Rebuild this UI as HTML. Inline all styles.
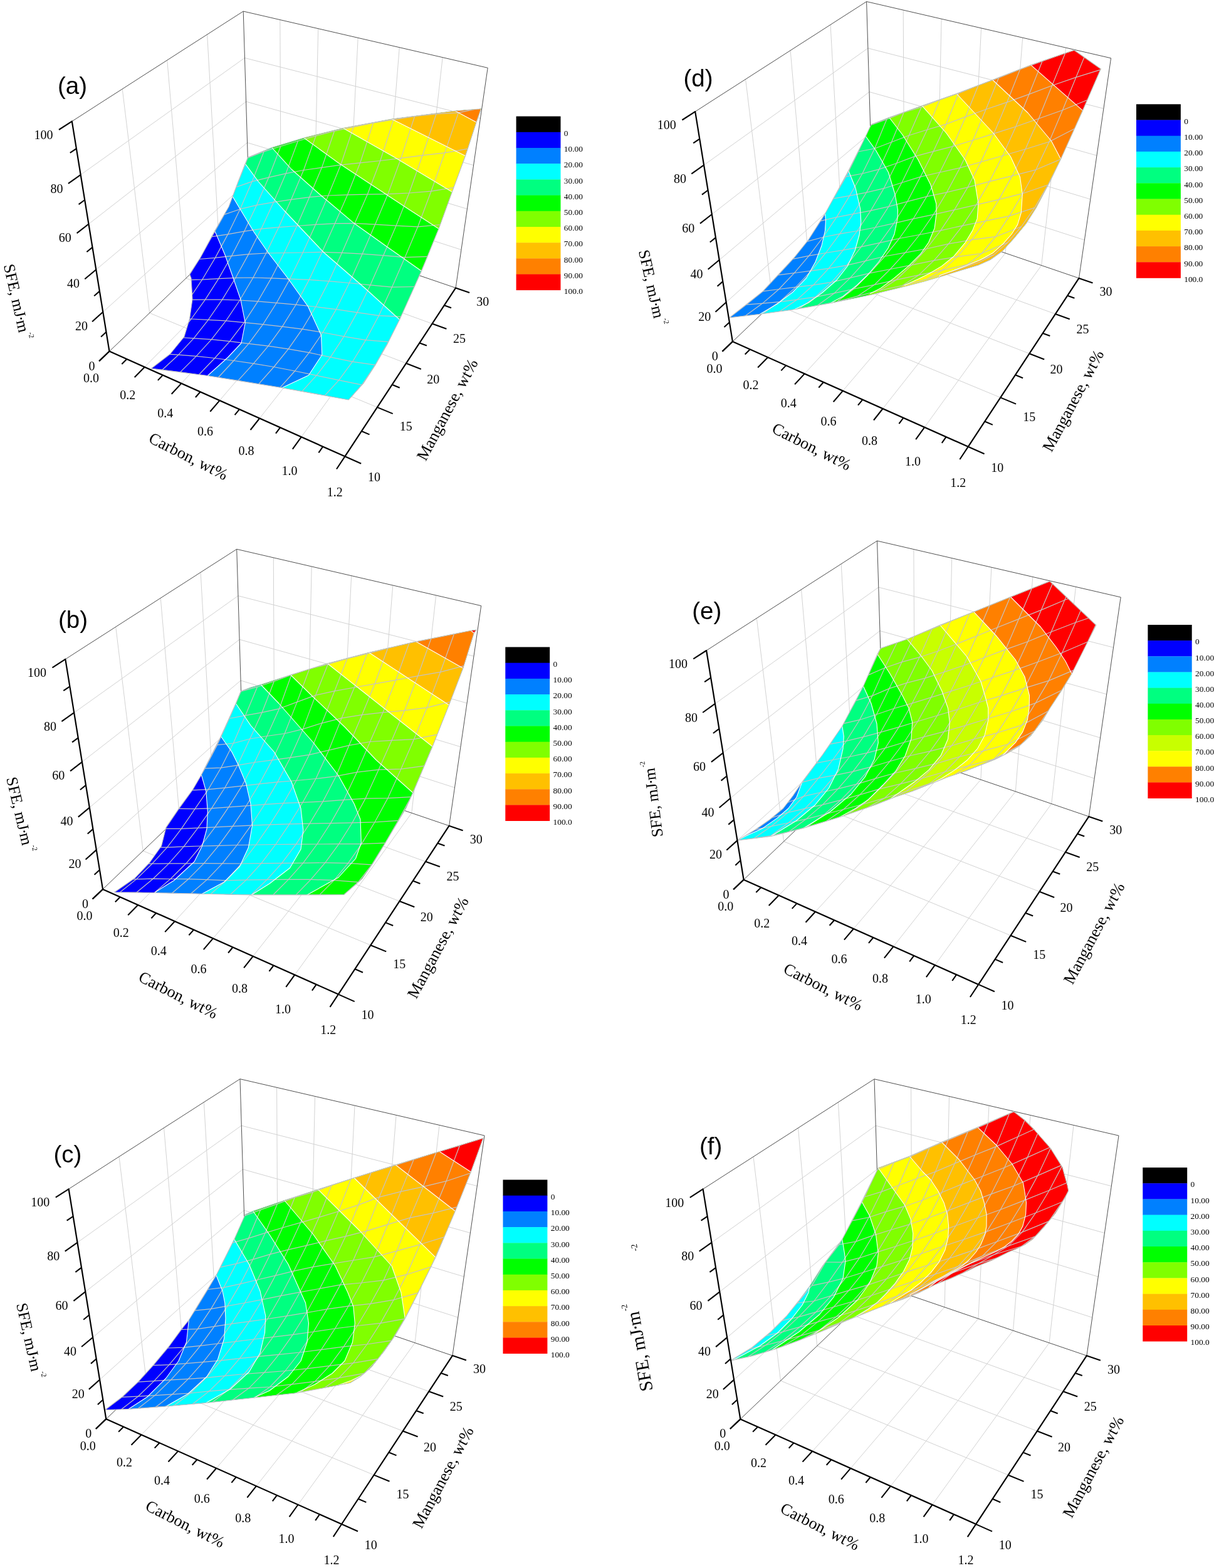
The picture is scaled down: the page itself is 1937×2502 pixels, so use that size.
<!DOCTYPE html>
<html><head><meta charset="utf-8"><title>SFE maps</title>
<style>
html,body{margin:0;padding:0;background:#fff}
svg{display:block}
.g{stroke:#d2d2d2;stroke-width:1;fill:none}
.b{stroke:#505050;stroke-width:1;fill:none}
.a{stroke:#000;stroke-width:2.2;fill:none;stroke-linejoin:round;stroke-linecap:round}
.t{stroke:#000;stroke-width:2.1;stroke-linecap:butt}
.m{stroke:#c6c2c2;stroke-width:1.2;fill:none;stroke-linejoin:round}
.c{stroke:#fff;stroke-width:1.1;fill:none;stroke-linejoin:round}
.o{stroke:#c0c0c0;stroke-width:1.1;fill:none;stroke-linejoin:round}
text{font-family:"Liberation Serif",serif;fill:#000}
.tl{font-size:20px;text-anchor:middle}
.tt{font-size:26px;text-anchor:middle}
.lg{font-size:13.4px}
.ts{}
.pl{font-family:"Liberation Sans",sans-serif;font-size:38.5px}
</style></head>
<body>
<svg width="1937" height="2502" viewBox="0 0 1937 2502">
<rect width="1937" height="2502" fill="#fff"/>
<g id="p_a">
<line class="g" x1="164.3" y1="497.8" x2="396.5" y2="289.2"/>
<line class="g" x1="396.5" y1="289.2" x2="736" y2="398.5"/>
<line class="g" x1="153.3" y1="430.3" x2="394.6" y2="227.6"/>
<line class="g" x1="394.6" y1="227.6" x2="745.4" y2="333.4"/>
<line class="g" x1="141.4" y1="357.5" x2="392.6" y2="162.1"/>
<line class="g" x1="392.6" y1="162.1" x2="755.6" y2="263.7"/>
<line class="g" x1="128.7" y1="278.9" x2="390.4" y2="92.4"/>
<line class="g" x1="390.4" y1="92.4" x2="766.5" y2="188.8"/>
<line class="g" x1="238.7" y1="499.4" x2="195.2" y2="141.9"/>
<line class="g" x1="238.7" y1="499.4" x2="601.9" y2="649.9"/>
<line class="g" x1="296.9" y1="443.9" x2="266.7" y2="96"/>
<line class="g" x1="296.9" y1="443.9" x2="648" y2="579.7"/>
<line class="g" x1="349.8" y1="393.4" x2="330.6" y2="54.9"/>
<line class="g" x1="349.8" y1="393.4" x2="689.5" y2="516.5"/>
<line class="g" x1="448.4" y1="364.3" x2="446.8" y2="31.6"/>
<line class="g" x1="230.7" y1="585.7" x2="448.4" y2="364.3"/>
<line class="g" x1="500.4" y1="382" x2="507.7" y2="45.7"/>
<line class="g" x1="289.3" y1="611.9" x2="500.4" y2="382"/>
<line class="g" x1="554.1" y1="400.4" x2="571.2" y2="60.4"/>
<line class="g" x1="350.4" y1="639.1" x2="554.1" y2="400.4"/>
<line class="g" x1="609.7" y1="419.4" x2="637.3" y2="75.7"/>
<line class="g" x1="414.2" y1="667.5" x2="609.7" y2="419.4"/>
<line class="g" x1="667.3" y1="439" x2="706.2" y2="91.7"/>
<line class="g" x1="480.7" y1="697.3" x2="667.3" y2="439"/>
<line class="b" x1="114.8" y1="193.6" x2="388.2" y2="18"/>
<line class="b" x1="388.2" y1="18" x2="778.2" y2="108.3"/>
<line class="b" x1="398.2" y1="347.2" x2="388.2" y2="18"/>
<line class="b" x1="727.1" y1="459.4" x2="778.2" y2="108.3"/>
<line class="b" x1="174.5" y1="560.6" x2="398.2" y2="347.2"/>
<line class="b" x1="398.2" y1="347.2" x2="727.1" y2="459.4"/>
<polygon points="241.3,588 271.3,565 293.8,537.5 302.5,508.8 307,477.5 305,443.8 302.5,437.5 320,410.5 342.5,368.8 365,330 380,290 391.3,261.3 395.5,251.3 433.8,235.5 485,220 547.5,204.5 625,190 726.3,177 767.5,173.8 760,195 742.5,248.8 721.3,306.3 700,365 672.5,432.5 637.5,510 617.5,550 598.8,582.5 580,611.5 556.3,638 450,618.8 331.3,599.5" fill="#0000ff"/>
<polygon points="331.3,599.5 450,618.8 556.3,638 580,611.5 598.8,582.5 617.5,550 637.5,510 672.5,432.5 700,365 721.3,306.3 742.5,248.8 760,195 767.5,173.8 726.3,177 625,190 547.5,204.5 485,220 433.8,235.5 395.5,251.3 391.3,261.3 380,290 365,330 342.5,368.8 345,373.8 358.8,406.3 371.3,441.3 383.8,477.5 391.3,515 385,547.5 363.8,570" fill="#0080ff"/>
<polygon points="450,618.8 556.3,638 580,611.5 598.8,582.5 617.5,550 637.5,510 672.5,432.5 700,365 721.3,306.3 742.5,248.8 760,195 767.5,173.8 726.3,177 625,190 547.5,204.5 485,220 433.8,235.5 395.5,251.3 391.3,261.3 380,290 371.1,313.6 382.5,332.5 405,370 427.5,402.5 460,445 491.3,488.8 512.5,535 513.8,566.3 492.5,598.8" fill="#00ffff"/>
<polygon points="637.5,510 672.5,432.5 700,365 721.3,306.3 742.5,248.8 760,195 767.5,173.8 726.3,177 625,190 547.5,204.5 485,220 433.8,235.5 395.5,251.3 391.3,261.3 412.5,290 453.5,336 516.3,402.5 582.5,460" fill="#00ff80"/>
<polygon points="672.5,432.5 700,365 721.3,306.3 742.5,248.8 760,195 767.5,173.8 726.3,177 625,190 547.5,204.5 485,220 433.8,235.5 465,270 510,310 565,356.3 617.5,393.8" fill="#00ff00"/>
<polygon points="700,365 721.3,306.3 742.5,248.8 760,195 767.5,173.8 726.3,177 625,190 547.5,204.5 485,220 540,260 595,296.3 650,332.5" fill="#80ff00"/>
<polygon points="721.3,306.3 742.5,248.8 760,195 767.5,173.8 726.3,177 625,190 547.5,204.5 630,251.3" fill="#ffff00"/>
<polygon points="742.5,248.8 760,195 767.5,173.8 726.3,177 625,190" fill="#ffc000"/>
<polygon points="760,195 767.5,173.8 726.3,177" fill="#ff8000"/>
<clipPath id="clip_a"><polygon points="241.3,588 271.3,565 293.8,537.5 302.5,508.8 307,477.5 305,443.8 302.5,437.5 320,410.5 342.5,368.8 365,330 380,290 391.3,261.3 395.5,251.3 433.8,235.5 485,220 547.5,204.5 625,190 726.3,177 767.5,173.8 760,195 742.5,248.8 721.3,306.3 700,365 672.5,432.5 637.5,510 617.5,550 598.8,582.5 580,611.5 556.3,638 450,618.8 331.3,599.5"/></clipPath>
<g clip-path="url(#clip_a)">
<polyline class="m" points="178.9,587.5 204.7,561.1 229.4,534.5 253,506.9 275.5,477.8 297.1,446.7 317.9,413.5 338,377.7 357.7,342.4 376.7,298.6 395.3,251.9"/>
<polyline class="m" points="204.5,587.7 230.4,562.3 255.1,536 278.6,507.9 301.1,478.3 322.6,446.2 343.4,411.4 363.5,373.9 383.1,333.7 402.2,289.6 421.1,241.9"/>
<polyline class="m" points="231.1,588.1 257.1,564.3 281.7,538 305.1,509 327.4,478.1 348.8,444.6 369.6,408.3 389.7,369.2 409.4,327.4 428.7,283.2 447.8,233.5"/>
<polyline class="m" points="258.8,590.3 284.7,566.2 309.1,539.8 332.3,510.3 354.5,478.1 375.9,443.3 396.6,405.6 416.8,365.2 436.6,322.6 456.1,276.9 475.4,225"/>
<polyline class="m" points="287.5,593.9 313.1,568.4 337.4,541.7 360.5,511.9 382.6,479 403.9,443 424.6,404 444.8,362.6 464.7,318.3 484.4,271.5 504,216.8"/>
<polyline class="m" points="317.3,598 342.6,571.5 366.6,544.7 389.5,514.6 411.5,480.8 432.8,443.9 453.4,403.5 473.7,360.5 493.7,314.6 513.5,267.3 533.5,209.2"/>
<polyline class="m" points="348.1,602.5 373,575.5 396.8,548.4 419.5,517.7 441.3,483.3 462.5,445.1 483.2,403 503.6,358.3 523.7,312 543.7,263.1 564,202.6"/>
<polyline class="m" points="379.8,607.4 404.5,580.1 428,552.2 450.4,521.1 472.1,486.2 493.2,446.4 513.9,402.3 534.4,356.6 554.5,310.8 574.7,259.8 595.6,196.1"/>
<polyline class="m" points="412.7,612.8 437,585.5 460.1,556.9 482.3,525.2 503.8,489.5 524.8,448.7 545.6,403.3 566.1,356.3 586.3,310.2 606.7,256.5 628,190.9"/>
<polyline class="m" points="446.7,618.6 470.5,592 493.2,562.7 515.1,530.5 536.4,493.6 557.3,451.5 578.1,405.2 598.6,358.1 619,309.6 639.9,252.4 661.6,185.6"/>
<polyline class="m" points="481.8,624.7 505,599.2 527.3,569.9 548.8,536.8 569.9,498.6 590.8,454.9 611.6,407.7 632.1,360.1 652.8,308 674.2,247.8 696.1,181.8"/>
<polyline class="m" points="518.1,631.3 540.7,606.6 562.4,577.2 583.6,542.6 604.5,503.6 625.4,458.2 646.1,410.7 666.7,361.8 687.9,305.2 709.6,243.9 731.5,179.9"/>
<polyline class="m" points="555.5,639.1 577.4,614.1 598.8,582.3 619.8,545.3 640.4,505.3 661.5,457.5 682.2,409.4 702.9,358.5 724.6,299.1 746.6,237.3 768.9,172"/>
<polyline class="m" points="178.9,587.5 204.5,587.7 231.1,588.1 258.8,590.3 287.5,593.9 317.3,598 348.1,602.5 379.8,607.4 412.7,612.8 446.7,618.6 481.8,624.7 518.1,631.3 555.5,639.1"/>
<polyline class="m" points="204.7,561.1 230.4,562.3 257.1,564.3 284.7,566.2 313.1,568.4 342.6,571.5 373,575.5 404.5,580.1 437,585.5 470.5,592 505,599.2 540.7,606.6 577.4,614.1"/>
<polyline class="m" points="229.4,534.5 255.1,536 281.7,538 309.1,539.8 337.4,541.7 366.6,544.7 396.8,548.4 428,552.2 460.1,556.9 493.2,562.7 527.3,569.9 562.4,577.2 598.8,582.3"/>
<polyline class="m" points="253,506.9 278.6,507.9 305.1,509 332.3,510.3 360.5,511.9 389.5,514.6 419.5,517.7 450.4,521.1 482.3,525.2 515.1,530.5 548.8,536.8 583.6,542.6 619.8,545.3"/>
<polyline class="m" points="275.5,477.8 301.1,478.3 327.4,478.1 354.5,478.1 382.6,479 411.5,480.8 441.3,483.3 472.1,486.2 503.8,489.5 536.4,493.6 569.9,498.6 604.5,503.6 640.4,505.3"/>
<polyline class="m" points="297.1,446.7 322.6,446.2 348.8,444.6 375.9,443.3 403.9,443 432.8,443.9 462.5,445.1 493.2,446.4 524.8,448.7 557.3,451.5 590.8,454.9 625.4,458.2 661.5,457.5"/>
<polyline class="m" points="317.9,413.5 343.4,411.4 369.6,408.3 396.6,405.6 424.6,404 453.4,403.5 483.2,403 513.9,402.3 545.6,403.3 578.1,405.2 611.6,407.7 646.1,410.7 682.2,409.4"/>
<polyline class="m" points="338,377.7 363.5,373.9 389.7,369.2 416.8,365.2 444.8,362.6 473.7,360.5 503.6,358.3 534.4,356.6 566.1,356.3 598.6,358.1 632.1,360.1 666.7,361.8 702.9,358.5"/>
<polyline class="m" points="357.7,342.4 383.1,333.7 409.4,327.4 436.6,322.6 464.7,318.3 493.7,314.6 523.7,312 554.5,310.8 586.3,310.2 619,309.6 652.8,308 687.9,305.2 724.6,299.1"/>
<polyline class="m" points="376.7,298.6 402.2,289.6 428.7,283.2 456.1,276.9 484.4,271.5 513.5,267.3 543.7,263.1 574.7,259.8 606.7,256.5 639.9,252.4 674.2,247.8 709.6,243.9 746.6,237.3"/>
<polyline class="m" points="395.3,251.9 421.1,241.9 447.8,233.5 475.4,225 504,216.8 533.5,209.2 564,202.6 595.6,196.1 628,190.9 661.6,185.6 696.1,181.8 731.5,179.9 768.9,172"/>
<polyline class="c" points="329.1,601.5 331.3,599.5 363.8,570 385,547.5 391.3,515 383.8,477.5 371.3,441.3 358.8,406.3 345,373.8 342.5,368.8 341.2,366.1"/>
<polyline class="c" points="447.3,620.1 450,618.8 492.5,598.8 513.8,566.3 512.5,535 491.3,488.8 460,445 427.5,402.5 405,370 382.5,332.5 370.7,312.9 369.2,310.3"/>
<polyline class="c" points="639.7,512 637.5,510 582.5,460 516.3,402.5 453.5,336 412.5,290 391.3,261.3 389.5,258.9"/>
<polyline class="c" points="675,434.2 672.5,432.5 617.5,393.8 565,356.3 510,310 465,270 433.8,235.5 431.8,233.3"/>
<polyline class="c" points="702.5,366.6 700,365 650,332.5 595,296.3 540,260 485,220 482.6,218.2"/>
<polyline class="c" points="723.9,307.8 721.3,306.3 630,251.3 547.5,204.5 544.9,203"/>
<polyline class="c" points="745.2,250.1 742.5,248.8 625,190 622.3,188.7"/>
<polyline class="c" points="762.6,196.4 760,195 726.3,177 723.7,175.6"/>
</g>
<polygon class="o" points="241.3,588 271.3,565 293.8,537.5 302.5,508.8 307,477.5 305,443.8 302.5,437.5 320,410.5 342.5,368.8 365,330 380,290 391.3,261.3 395.5,251.3 433.8,235.5 485,220 547.5,204.5 625,190 726.3,177 767.5,173.8 760,195 742.5,248.8 721.3,306.3 700,365 672.5,432.5 637.5,510 617.5,550 598.8,582.5 580,611.5 556.3,638 450,618.8 331.3,599.5"/>
<line class="t" x1="174.5" y1="560.6" x2="158.1" y2="576.3"/>
<line class="t" x1="169.5" y1="529.7" x2="161.1" y2="537.5"/>
<line class="t" x1="164.3" y1="497.8" x2="147.1" y2="513.2"/>
<line class="t" x1="158.9" y1="464.6" x2="150.2" y2="472.2"/>
<line class="t" x1="153.3" y1="430.3" x2="135.3" y2="445.3"/>
<line class="t" x1="147.5" y1="394.6" x2="138.4" y2="402"/>
<line class="t" x1="141.4" y1="357.5" x2="122.6" y2="372.1"/>
<line class="t" x1="135.2" y1="319" x2="125.6" y2="326.1"/>
<line class="t" x1="128.7" y1="278.9" x2="108.9" y2="292.9"/>
<line class="t" x1="121.9" y1="237.1" x2="111.8" y2="243.9"/>
<line class="t" x1="114.8" y1="193.6" x2="94" y2="207"/>
<line class="t" x1="174.5" y1="560.6" x2="158.1" y2="576.3"/>
<line class="t" x1="202.3" y1="573" x2="194.3" y2="581"/>
<line class="t" x1="230.7" y1="585.7" x2="214.7" y2="602"/>
<line class="t" x1="259.7" y1="598.6" x2="251.9" y2="606.9"/>
<line class="t" x1="289.3" y1="611.9" x2="273.7" y2="628.8"/>
<line class="t" x1="319.6" y1="625.3" x2="311.9" y2="634"/>
<line class="t" x1="350.4" y1="639.1" x2="335.3" y2="656.8"/>
<line class="t" x1="382" y1="653.2" x2="374.6" y2="662.2"/>
<line class="t" x1="414.2" y1="667.5" x2="399.6" y2="686"/>
<line class="t" x1="447.1" y1="682.2" x2="440" y2="691.6"/>
<line class="t" x1="480.7" y1="697.3" x2="466.8" y2="716.6"/>
<line class="t" x1="515.2" y1="712.6" x2="508.4" y2="722.4"/>
<line class="t" x1="550.3" y1="728.3" x2="537" y2="748.5"/>
<line class="t" x1="550.3" y1="728.3" x2="576.2" y2="739.8"/>
<line class="t" x1="576.9" y1="688" x2="589.5" y2="693.4"/>
<line class="t" x1="601.9" y1="649.9" x2="626.7" y2="660.1"/>
<line class="t" x1="625.6" y1="613.8" x2="637.7" y2="618.7"/>
<line class="t" x1="648" y1="579.7" x2="671.8" y2="588.9"/>
<line class="t" x1="669.3" y1="547.3" x2="680.9" y2="551.6"/>
<line class="t" x1="689.5" y1="516.5" x2="712.4" y2="524.8"/>
<line class="t" x1="708.8" y1="487.3" x2="720" y2="491.2"/>
<line class="t" x1="727.1" y1="459.4" x2="749.1" y2="466.9"/>
<polyline class="a" points="114.8,193.6 174.5,560.6 550.3,728.3 727.1,459.4"/>
<text class="tl" x="69.4" y="221.7">100</text>
<text class="tl" x="90.5" y="307.5">80</text>
<text class="tl" x="103.8" y="386.1">60</text>
<text class="tl" x="117.1" y="459">40</text>
<text class="tl" x="129.9" y="527.1">20</text>
<text class="tl" x="146.4" y="590.6">0</text>
<text class="tl" x="145.5" y="610.1">0.0</text>
<text class="tl" x="203.7" y="636.7">0.2</text>
<text class="tl" x="263.8" y="665.5">0.4</text>
<text class="tl" x="327.5" y="694.7">0.6</text>
<text class="tl" x="393" y="725.5">0.8</text>
<text class="tl" x="462.1" y="758.3">1.0</text>
<text class="tl" x="534.3" y="792">1.2</text>
<text class="tl" x="596.9" y="768.1">10</text>
<text class="tl" x="647.8" y="687">15</text>
<text class="tl" x="691.2" y="611.9">20</text>
<text class="tl" x="733" y="547.1">25</text>
<text class="tl" x="770.2" y="487.7">30</text>
<text class="tt" transform="translate(300.4,728.6) rotate(26.8)" y="8">Carbon, wt%</text>
<text class="tt" transform="translate(714.1,654) rotate(-62)" y="8">Manganese, wt%</text>
<text class="ts" font-size="25.5" transform="translate(25.4,477) rotate(77.2)" x="-56.6" y="7.4">SFE, mJ<tspan dx="-1.8">·</tspan><tspan dx="-1.9">m</tspan><tspan dy="-14.8" dx="2.3" font-size="11.5">-2</tspan></text>
<text class="pl" x="92" y="150">(a)</text>
<rect x="823.6" y="185.6" width="70.9" height="25.5" fill="#000000"/>
<rect x="823.6" y="210.8" width="70.9" height="25.5" fill="#0000ff"/>
<rect x="823.6" y="236" width="70.9" height="25.5" fill="#0080ff"/>
<rect x="823.6" y="261.2" width="70.9" height="25.5" fill="#00ffff"/>
<rect x="823.6" y="286.4" width="70.9" height="25.5" fill="#00ff80"/>
<rect x="823.6" y="311.6" width="70.9" height="25.5" fill="#00ff00"/>
<rect x="823.6" y="336.8" width="70.9" height="25.5" fill="#80ff00"/>
<rect x="823.6" y="362" width="70.9" height="25.5" fill="#ffff00"/>
<rect x="823.6" y="387.2" width="70.9" height="25.5" fill="#ffc000"/>
<rect x="823.6" y="412.4" width="70.9" height="25.5" fill="#ff8000"/>
<rect x="823.6" y="437.6" width="70.9" height="25.5" fill="#ff0000"/>
<text class="lg" x="899.8" y="217">0</text>
<text class="lg" x="899.8" y="242.2">10.00</text>
<text class="lg" x="899.8" y="267.4">20.00</text>
<text class="lg" x="899.8" y="292.6">30.00</text>
<text class="lg" x="899.8" y="317.8">40.00</text>
<text class="lg" x="899.8" y="343">50.00</text>
<text class="lg" x="899.8" y="368.2">60.00</text>
<text class="lg" x="899.8" y="393.4">70.00</text>
<text class="lg" x="899.8" y="418.6">80.00</text>
<text class="lg" x="899.8" y="443.8">90.00</text>
<text class="lg" x="899.8" y="469">100.0</text>
</g>
<g id="p_b">
<line class="g" x1="153.8" y1="1356.1" x2="386" y2="1147.5"/>
<line class="g" x1="386" y1="1147.5" x2="725.5" y2="1256.8"/>
<line class="g" x1="142.8" y1="1288.6" x2="384.1" y2="1085.9"/>
<line class="g" x1="384.1" y1="1085.9" x2="734.9" y2="1191.7"/>
<line class="g" x1="130.9" y1="1215.8" x2="382.1" y2="1020.4"/>
<line class="g" x1="382.1" y1="1020.4" x2="745.1" y2="1122"/>
<line class="g" x1="118.2" y1="1137.2" x2="379.9" y2="950.7"/>
<line class="g" x1="379.9" y1="950.7" x2="756" y2="1047.1"/>
<line class="g" x1="228.2" y1="1357.7" x2="184.7" y2="1000.2"/>
<line class="g" x1="228.2" y1="1357.7" x2="591.4" y2="1508.2"/>
<line class="g" x1="286.4" y1="1302.2" x2="256.2" y2="954.3"/>
<line class="g" x1="286.4" y1="1302.2" x2="637.5" y2="1438"/>
<line class="g" x1="339.3" y1="1251.7" x2="320.1" y2="913.2"/>
<line class="g" x1="339.3" y1="1251.7" x2="679" y2="1374.8"/>
<line class="g" x1="437.9" y1="1222.6" x2="436.3" y2="889.9"/>
<line class="g" x1="220.2" y1="1444" x2="437.9" y2="1222.6"/>
<line class="g" x1="489.9" y1="1240.3" x2="497.2" y2="904"/>
<line class="g" x1="278.8" y1="1470.2" x2="489.9" y2="1240.3"/>
<line class="g" x1="543.6" y1="1258.7" x2="560.7" y2="918.7"/>
<line class="g" x1="339.9" y1="1497.4" x2="543.6" y2="1258.7"/>
<line class="g" x1="599.2" y1="1277.7" x2="626.8" y2="934"/>
<line class="g" x1="403.7" y1="1525.8" x2="599.2" y2="1277.7"/>
<line class="g" x1="656.8" y1="1297.3" x2="695.7" y2="950"/>
<line class="g" x1="470.2" y1="1555.6" x2="656.8" y2="1297.3"/>
<line class="b" x1="104.3" y1="1051.9" x2="377.7" y2="876.3"/>
<line class="b" x1="377.7" y1="876.3" x2="767.7" y2="966.6"/>
<line class="b" x1="387.7" y1="1205.5" x2="377.7" y2="876.3"/>
<line class="b" x1="716.6" y1="1317.7" x2="767.7" y2="966.6"/>
<line class="b" x1="164" y1="1418.9" x2="387.7" y2="1205.5"/>
<line class="b" x1="387.7" y1="1205.5" x2="716.6" y2="1317.7"/>
<polygon points="182.5,1423.8 215,1401.3 238.8,1376.3 257.5,1350 265,1320 286.3,1288.8 307.5,1260 321.3,1236.3 352.5,1175 376.3,1122.5 384.3,1103 400,1097 416.3,1092.5 463.8,1077 522.5,1058.8 588.8,1041.3 663.8,1023.8 751.3,1006.3 760,1005 756.3,1010 738.8,1066.3 716.3,1125 690,1191.3 658.8,1265 647.5,1290 632.5,1315 612.5,1348.8 595,1377.5 577.5,1402.5 548.8,1427.5 490,1428 401.3,1428 322.5,1426.3 246.3,1424.5" fill="#0000ff"/>
<polygon points="246.3,1424.5 322.5,1426.3 401.3,1428 490,1428 548.8,1427.5 577.5,1402.5 595,1377.5 612.5,1348.8 632.5,1315 647.5,1290 658.8,1265 690,1191.3 716.3,1125 738.8,1066.3 756.3,1010 760,1005 751.3,1006.3 663.8,1023.8 588.8,1041.3 522.5,1058.8 463.8,1077 416.3,1092.5 400,1097 384.3,1103 376.3,1122.5 352.5,1175 321.3,1236.3 328.8,1262.5 331.3,1295 330,1322.5 322.5,1350 310,1375 277.5,1405" fill="#0080ff"/>
<polygon points="322.5,1426.3 401.3,1428 490,1428 548.8,1427.5 577.5,1402.5 595,1377.5 612.5,1348.8 632.5,1315 647.5,1290 658.8,1265 690,1191.3 716.3,1125 738.8,1066.3 756.3,1010 760,1005 751.3,1006.3 663.8,1023.8 588.8,1041.3 522.5,1058.8 463.8,1077 416.3,1092.5 400,1097 384.3,1103 376.3,1122.5 352.5,1175 370,1200 380,1220 392.5,1250 400,1282.5 402.5,1317.5 396.3,1352.5 382.5,1382.5 357.5,1407.5" fill="#00ffff"/>
<polygon points="401.3,1428 490,1428 548.8,1427.5 577.5,1402.5 595,1377.5 612.5,1348.8 632.5,1315 647.5,1290 658.8,1265 690,1191.3 716.3,1125 738.8,1066.3 756.3,1010 760,1005 751.3,1006.3 663.8,1023.8 588.8,1041.3 522.5,1058.8 463.8,1077 416.3,1092.5 400,1097 384.3,1103 376.3,1122.5 400,1157.5 437.5,1200 465,1247.5 480,1290 483.8,1325 480,1355 462.5,1385 430,1410" fill="#00ff80"/>
<polygon points="490,1428 548.8,1427.5 577.5,1402.5 595,1377.5 612.5,1348.8 632.5,1315 647.5,1290 658.8,1265 690,1191.3 716.3,1125 738.8,1066.3 756.3,1010 760,1005 751.3,1006.3 663.8,1023.8 588.8,1041.3 522.5,1058.8 463.8,1077 416.3,1092.5 445,1122.5 500,1185 540,1237.5 565,1282.5 575,1307.5 576.3,1345 567.5,1370 540,1400" fill="#00ff00"/>
<polygon points="658.8,1265 690,1191.3 716.3,1125 738.8,1066.3 756.3,1010 760,1005 751.3,1006.3 663.8,1023.8 588.8,1041.3 522.5,1058.8 463.8,1077 500,1112.5 550,1160 600,1212.5" fill="#80ff00"/>
<polygon points="690,1191.3 716.3,1125 738.8,1066.3 756.3,1010 760,1005 751.3,1006.3 663.8,1023.8 588.8,1041.3 522.5,1058.8 600,1120" fill="#ffff00"/>
<polygon points="716.3,1125 738.8,1066.3 756.3,1010 760,1005 751.3,1006.3 663.8,1023.8 588.8,1041.3" fill="#ffc000"/>
<polygon points="738.8,1066.3 756.3,1010 760,1005 751.3,1006.3 663.8,1023.8" fill="#ff8000"/>
<polygon points="756.3,1010 760,1005 751.3,1006.3" fill="#ff0000"/>
<clipPath id="clip_b"><polygon points="182.5,1423.8 215,1401.3 238.8,1376.3 257.5,1350 265,1320 286.3,1288.8 307.5,1260 321.3,1236.3 352.5,1175 376.3,1122.5 384.3,1103 400,1097 416.3,1092.5 463.8,1077 522.5,1058.8 588.8,1041.3 663.8,1023.8 751.3,1006.3 760,1005 756.3,1010 738.8,1066.3 716.3,1125 690,1191.3 658.8,1265 647.5,1290 632.5,1315 612.5,1348.8 595,1377.5 577.5,1402.5 548.8,1427.5 490,1428 401.3,1428 322.5,1426.3 246.3,1424.5"/></clipPath>
<g clip-path="url(#clip_b)">
<polyline class="m" points="165.1,1426 191.8,1403.1 217,1378.3 241,1352.2 263.6,1322.3 285.3,1290.4 306.6,1260.9 326.9,1226.2 346.6,1188.6 365.8,1146.5 384.6,1103.1"/>
<polyline class="m" points="190.8,1424.3 217.6,1402.9 242.8,1378.2 266.7,1352.1 289.4,1322.4 311.1,1290.7 332.3,1259.7 352.6,1225.2 372.3,1186 391.5,1141.7 410.5,1096.2"/>
<polyline class="m" points="217.6,1424.2 244.3,1402.2 269.4,1377.9 293.2,1350.9 315.8,1321.2 337.6,1289.8 358.6,1257.2 379,1221.2 398.7,1179 418.1,1136.8 437.3,1087.2"/>
<polyline class="m" points="245.6,1425.3 272,1402.5 296.9,1377.8 320.5,1350 343.1,1319.8 364.8,1287.9 385.8,1254.2 406.1,1216.5 426,1174.5 445.6,1130.8 464.9,1077"/>
<polyline class="m" points="274.4,1425.3 300.6,1402.7 325.4,1377.7 348.8,1349.3 371.3,1318.4 392.9,1285.8 413.9,1250.8 434.3,1212.9 454.2,1170.5 474,1120.1 493.6,1067.5"/>
<polyline class="m" points="304.3,1426.2 330.3,1403.6 354.8,1377.8 378.1,1348.5 400.5,1317.2 422,1283.7 442.9,1247.9 463.3,1208.8 483.4,1163.4 503.5,1109.4 523.3,1059.8"/>
<polyline class="m" points="335.4,1427.2 361.1,1404.8 385.3,1378 408.4,1348 430.6,1315.9 452.1,1281.7 472.9,1245.5 493.4,1204.3 513.7,1153.8 533.9,1102.6 554,1050.8"/>
<polyline class="m" points="367.6,1427.3 392.9,1404.1 416.9,1377.7 439.8,1347.5 461.8,1314.8 483.1,1280.3 504,1242.5 524.6,1197.2 545.1,1145.9 565.4,1097 585.8,1043.1"/>
<polyline class="m" points="401,1427.8 426,1403.6 449.6,1377.4 472.3,1347.2 494.1,1314.1 515.3,1278.9 536.1,1238.7 557,1189.3 577.6,1140.7 598,1091.2 618.7,1034.5"/>
<polyline class="m" points="435.8,1428 460.3,1403.3 483.6,1377.1 505.9,1347 527.5,1313.6 548.6,1276.4 569.6,1232.1 590.5,1183.5 611,1136.8 631.6,1085.2 652.8,1026.2"/>
<polyline class="m" points="472,1428.1 496,1403.3 518.8,1376.6 540.8,1346.6 562.1,1312.8 583.1,1274.1 604.2,1228.1 625,1181.4 645.5,1133.7 666.6,1078.7 688,1018.8"/>
<polyline class="m" points="509.8,1427.9 533.1,1404.6 555.4,1377.3 577,1346.6 598,1311.8 618.8,1273.6 639.8,1227.2 660.5,1179.6 681.3,1129.2 702.7,1072.3 724.5,1011.6"/>
<polyline class="m" points="549.1,1427.6 571.5,1407.7 593.2,1379.9 614.6,1345.2 635.4,1309.4 655.8,1271.7 677,1222.2 698.1,1171.9 719.1,1119.7 740.7,1062.3 762.5,1002.2"/>
<polyline class="m" points="165.1,1426 190.8,1424.3 217.6,1424.2 245.6,1425.3 274.4,1425.3 304.3,1426.2 335.4,1427.2 367.6,1427.3 401,1427.8 435.8,1428 472,1428.1 509.8,1427.9 549.1,1427.6"/>
<polyline class="m" points="191.8,1403.1 217.6,1402.9 244.3,1402.2 272,1402.5 300.6,1402.7 330.3,1403.6 361.1,1404.8 392.9,1404.1 426,1403.6 460.3,1403.3 496,1403.3 533.1,1404.6 571.5,1407.7"/>
<polyline class="m" points="217,1378.3 242.8,1378.2 269.4,1377.9 296.9,1377.8 325.4,1377.7 354.8,1377.8 385.3,1378 416.9,1377.7 449.6,1377.4 483.6,1377.1 518.8,1376.6 555.4,1377.3 593.2,1379.9"/>
<polyline class="m" points="241,1352.2 266.7,1352.1 293.2,1350.9 320.5,1350 348.8,1349.3 378.1,1348.5 408.4,1348 439.8,1347.5 472.3,1347.2 505.9,1347 540.8,1346.6 577,1346.6 614.6,1345.2"/>
<polyline class="m" points="263.6,1322.3 289.4,1322.4 315.8,1321.2 343.1,1319.8 371.3,1318.4 400.5,1317.2 430.6,1315.9 461.8,1314.8 494.1,1314.1 527.5,1313.6 562.1,1312.8 598,1311.8 635.4,1309.4"/>
<polyline class="m" points="285.3,1290.4 311.1,1290.7 337.6,1289.8 364.8,1287.9 392.9,1285.8 422,1283.7 452.1,1281.7 483.1,1280.3 515.3,1278.9 548.6,1276.4 583.1,1274.1 618.8,1273.6 655.8,1271.7"/>
<polyline class="m" points="306.6,1260.9 332.3,1259.7 358.6,1257.2 385.8,1254.2 413.9,1250.8 442.9,1247.9 472.9,1245.5 504,1242.5 536.1,1238.7 569.6,1232.1 604.2,1228.1 639.8,1227.2 677,1222.2"/>
<polyline class="m" points="326.9,1226.2 352.6,1225.2 379,1221.2 406.1,1216.5 434.3,1212.9 463.3,1208.8 493.4,1204.3 524.6,1197.2 557,1189.3 590.5,1183.5 625,1181.4 660.5,1179.6 698.1,1171.9"/>
<polyline class="m" points="346.6,1188.6 372.3,1186 398.7,1179 426,1174.5 454.2,1170.5 483.4,1163.4 513.7,1153.8 545.1,1145.9 577.6,1140.7 611,1136.8 645.5,1133.7 681.3,1129.2 719.1,1119.7"/>
<polyline class="m" points="365.8,1146.5 391.5,1141.7 418.1,1136.8 445.6,1130.8 474,1120.1 503.5,1109.4 533.9,1102.6 565.4,1097 598,1091.2 631.6,1085.2 666.6,1078.7 702.7,1072.3 740.7,1062.3"/>
<polyline class="m" points="384.6,1103.1 410.5,1096.2 437.3,1087.2 464.9,1077 493.6,1067.5 523.3,1059.8 554,1050.8 585.8,1043.1 618.7,1034.5 652.8,1026.2 688,1018.8 724.5,1011.6 762.5,1002.2"/>
<polyline class="c" points="243.8,1426.1 246.3,1424.5 277.5,1405 310,1375 322.5,1350 330,1322.5 331.3,1295 328.8,1262.5 321.3,1236.3 320.5,1233.4"/>
<polyline class="c" points="319.9,1427.7 322.5,1426.3 357.5,1407.5 382.5,1382.5 396.3,1352.5 402.5,1317.5 400,1282.5 392.5,1250 380,1220 370,1200 352.5,1175 350.8,1172.5"/>
<polyline class="c" points="398.8,1429.6 401.3,1428 430,1410 462.5,1385 480,1355 483.8,1325 480,1290 465,1247.5 437.5,1200 400,1157.5 376.3,1122.5 374.6,1120"/>
<polyline class="c" points="487.4,1429.5 490,1428 540,1400 567.5,1370 576.3,1345 575,1307.5 565,1282.5 540,1237.5 500,1185 445,1122.5 416.3,1092.5 414.2,1090.3"/>
<polyline class="c" points="661,1267 658.8,1265 600,1212.5 550,1160 500,1112.5 463.8,1077 461.7,1074.9"/>
<polyline class="c" points="692.4,1193.2 690,1191.3 600,1120 522.5,1058.8 520.1,1056.9"/>
<polyline class="c" points="718.8,1126.6 716.3,1125 588.8,1041.3 586.3,1039.7"/>
<polyline class="c" points="741.4,1067.8 738.8,1066.3 663.8,1023.8 661.2,1022.3"/>
<polyline class="c" points="758.7,1011.8 756.3,1010 751.3,1006.3 748.9,1004.5"/>
</g>
<polygon class="o" points="182.5,1423.8 215,1401.3 238.8,1376.3 257.5,1350 265,1320 286.3,1288.8 307.5,1260 321.3,1236.3 352.5,1175 376.3,1122.5 384.3,1103 400,1097 416.3,1092.5 463.8,1077 522.5,1058.8 588.8,1041.3 663.8,1023.8 751.3,1006.3 760,1005 756.3,1010 738.8,1066.3 716.3,1125 690,1191.3 658.8,1265 647.5,1290 632.5,1315 612.5,1348.8 595,1377.5 577.5,1402.5 548.8,1427.5 490,1428 401.3,1428 322.5,1426.3 246.3,1424.5"/>
<line class="t" x1="164" y1="1418.9" x2="147.6" y2="1434.6"/>
<line class="t" x1="159" y1="1388" x2="150.6" y2="1395.8"/>
<line class="t" x1="153.8" y1="1356.1" x2="136.6" y2="1371.5"/>
<line class="t" x1="148.4" y1="1322.9" x2="139.7" y2="1330.5"/>
<line class="t" x1="142.8" y1="1288.6" x2="124.8" y2="1303.6"/>
<line class="t" x1="137" y1="1252.9" x2="127.9" y2="1260.3"/>
<line class="t" x1="130.9" y1="1215.8" x2="112.1" y2="1230.4"/>
<line class="t" x1="124.7" y1="1177.3" x2="115.1" y2="1184.4"/>
<line class="t" x1="118.2" y1="1137.2" x2="98.4" y2="1151.2"/>
<line class="t" x1="111.4" y1="1095.4" x2="101.3" y2="1102.2"/>
<line class="t" x1="104.3" y1="1051.9" x2="83.5" y2="1065.3"/>
<line class="t" x1="164" y1="1418.9" x2="147.6" y2="1434.6"/>
<line class="t" x1="191.8" y1="1431.3" x2="183.8" y2="1439.3"/>
<line class="t" x1="220.2" y1="1444" x2="204.2" y2="1460.3"/>
<line class="t" x1="249.2" y1="1456.9" x2="241.4" y2="1465.2"/>
<line class="t" x1="278.8" y1="1470.2" x2="263.2" y2="1487.1"/>
<line class="t" x1="309.1" y1="1483.6" x2="301.4" y2="1492.3"/>
<line class="t" x1="339.9" y1="1497.4" x2="324.8" y2="1515.1"/>
<line class="t" x1="371.5" y1="1511.5" x2="364.1" y2="1520.5"/>
<line class="t" x1="403.7" y1="1525.8" x2="389.1" y2="1544.3"/>
<line class="t" x1="436.6" y1="1540.5" x2="429.5" y2="1549.9"/>
<line class="t" x1="470.2" y1="1555.6" x2="456.3" y2="1574.9"/>
<line class="t" x1="504.7" y1="1570.9" x2="497.9" y2="1580.7"/>
<line class="t" x1="539.8" y1="1586.6" x2="526.5" y2="1606.8"/>
<line class="t" x1="539.8" y1="1586.6" x2="565.7" y2="1598.1"/>
<line class="t" x1="566.4" y1="1546.3" x2="579" y2="1551.7"/>
<line class="t" x1="591.4" y1="1508.2" x2="616.2" y2="1518.4"/>
<line class="t" x1="615.1" y1="1472.1" x2="627.2" y2="1477"/>
<line class="t" x1="637.5" y1="1438" x2="661.3" y2="1447.2"/>
<line class="t" x1="658.8" y1="1405.6" x2="670.4" y2="1409.9"/>
<line class="t" x1="679" y1="1374.8" x2="701.9" y2="1383.1"/>
<line class="t" x1="698.3" y1="1345.6" x2="709.5" y2="1349.5"/>
<line class="t" x1="716.6" y1="1317.7" x2="738.6" y2="1325.2"/>
<polyline class="a" points="104.3,1051.9 164,1418.9 539.8,1586.6 716.6,1317.7"/>
<text class="tl" x="58.9" y="1080">100</text>
<text class="tl" x="80" y="1165.8">80</text>
<text class="tl" x="93.3" y="1244.4">60</text>
<text class="tl" x="106.6" y="1317.3">40</text>
<text class="tl" x="119.4" y="1385.4">20</text>
<text class="tl" x="135.9" y="1448.9">0</text>
<text class="tl" x="135" y="1468.4">0.0</text>
<text class="tl" x="193.2" y="1495">0.2</text>
<text class="tl" x="253.3" y="1523.8">0.4</text>
<text class="tl" x="317" y="1553">0.6</text>
<text class="tl" x="382.5" y="1583.8">0.8</text>
<text class="tl" x="451.6" y="1616.6">1.0</text>
<text class="tl" x="523.8" y="1650.3">1.2</text>
<text class="tl" x="586.4" y="1626.4">10</text>
<text class="tl" x="637.3" y="1545.3">15</text>
<text class="tl" x="680.7" y="1470.2">20</text>
<text class="tl" x="722.5" y="1405.4">25</text>
<text class="tl" x="759.7" y="1346">30</text>
<text class="tt" transform="translate(284.2,1588.3) rotate(26.8)" y="8">Carbon, wt%</text>
<text class="tt" transform="translate(699.3,1512.3) rotate(-62)" y="8">Manganese, wt%</text>
<text class="ts" font-size="25.5" transform="translate(30.2,1295.4) rotate(76.8)" x="-56.6" y="7.4">SFE, mJ<tspan dx="-1.8">·</tspan><tspan dx="-1.9">m</tspan><tspan dy="-14.8" dx="2.3" font-size="11.5">-2</tspan></text>
<text class="pl" x="93" y="1002">(b)</text>
<rect x="806.3" y="1032.5" width="70.9" height="25.5" fill="#000000"/>
<rect x="806.3" y="1057.7" width="70.9" height="25.5" fill="#0000ff"/>
<rect x="806.3" y="1082.9" width="70.9" height="25.5" fill="#0080ff"/>
<rect x="806.3" y="1108.1" width="70.9" height="25.5" fill="#00ffff"/>
<rect x="806.3" y="1133.3" width="70.9" height="25.5" fill="#00ff80"/>
<rect x="806.3" y="1158.5" width="70.9" height="25.5" fill="#00ff00"/>
<rect x="806.3" y="1183.7" width="70.9" height="25.5" fill="#80ff00"/>
<rect x="806.3" y="1208.9" width="70.9" height="25.5" fill="#ffff00"/>
<rect x="806.3" y="1234.1" width="70.9" height="25.5" fill="#ffc000"/>
<rect x="806.3" y="1259.3" width="70.9" height="25.5" fill="#ff8000"/>
<rect x="806.3" y="1284.5" width="70.9" height="25.5" fill="#ff0000"/>
<text class="lg" x="882.5" y="1063.9">0</text>
<text class="lg" x="882.5" y="1089.1">10.00</text>
<text class="lg" x="882.5" y="1114.3">20.00</text>
<text class="lg" x="882.5" y="1139.5">30.00</text>
<text class="lg" x="882.5" y="1164.7">40.00</text>
<text class="lg" x="882.5" y="1189.9">50.00</text>
<text class="lg" x="882.5" y="1215.1">60.00</text>
<text class="lg" x="882.5" y="1240.3">70.00</text>
<text class="lg" x="882.5" y="1265.5">80.00</text>
<text class="lg" x="882.5" y="1290.7">90.00</text>
<text class="lg" x="882.5" y="1315.9">100.0</text>
</g>
<g id="p_c">
<line class="g" x1="159.1" y1="2201.5" x2="391.3" y2="1992.9"/>
<line class="g" x1="391.3" y1="1992.9" x2="730.8" y2="2102.2"/>
<line class="g" x1="148.1" y1="2134" x2="389.4" y2="1931.3"/>
<line class="g" x1="389.4" y1="1931.3" x2="740.2" y2="2037.1"/>
<line class="g" x1="136.2" y1="2061.2" x2="387.4" y2="1865.8"/>
<line class="g" x1="387.4" y1="1865.8" x2="750.4" y2="1967.4"/>
<line class="g" x1="123.5" y1="1982.6" x2="385.2" y2="1796.1"/>
<line class="g" x1="385.2" y1="1796.1" x2="761.3" y2="1892.5"/>
<line class="g" x1="233.5" y1="2203.1" x2="190" y2="1845.6"/>
<line class="g" x1="233.5" y1="2203.1" x2="596.7" y2="2353.6"/>
<line class="g" x1="291.7" y1="2147.6" x2="261.5" y2="1799.7"/>
<line class="g" x1="291.7" y1="2147.6" x2="642.8" y2="2283.4"/>
<line class="g" x1="344.6" y1="2097.1" x2="325.4" y2="1758.6"/>
<line class="g" x1="344.6" y1="2097.1" x2="684.3" y2="2220.2"/>
<line class="g" x1="443.2" y1="2068" x2="441.6" y2="1735.3"/>
<line class="g" x1="225.5" y1="2289.4" x2="443.2" y2="2068"/>
<line class="g" x1="495.2" y1="2085.7" x2="502.5" y2="1749.4"/>
<line class="g" x1="284.1" y1="2315.6" x2="495.2" y2="2085.7"/>
<line class="g" x1="548.9" y1="2104.1" x2="566" y2="1764.1"/>
<line class="g" x1="345.2" y1="2342.8" x2="548.9" y2="2104.1"/>
<line class="g" x1="604.5" y1="2123.1" x2="632.1" y2="1779.4"/>
<line class="g" x1="409" y1="2371.2" x2="604.5" y2="2123.1"/>
<line class="g" x1="662.1" y1="2142.7" x2="701" y2="1795.4"/>
<line class="g" x1="475.5" y1="2401" x2="662.1" y2="2142.7"/>
<line class="b" x1="109.6" y1="1897.3" x2="383" y2="1721.7"/>
<line class="b" x1="383" y1="1721.7" x2="773" y2="1812"/>
<line class="b" x1="393" y1="2050.9" x2="383" y2="1721.7"/>
<line class="b" x1="721.9" y1="2163.1" x2="773" y2="1812"/>
<line class="b" x1="169.3" y1="2264.3" x2="393" y2="2050.9"/>
<line class="b" x1="393" y1="2050.9" x2="721.9" y2="2163.1"/>
<polygon points="167.5,2249.8 195,2229 220,2205.3 245,2177.8 270,2147.8 290,2120.3 301.3,2106.5 345,2035 373.8,1977.5 391.3,1938 403.8,1932.5 453.8,1915.5 507.5,1898 565,1879.5 631.3,1858.8 701.3,1837.5 770.8,1816.3 751.3,1870 726.3,1932.5 695,2006.3 670,2057 646.3,2103.8 630,2131.5 612.5,2156.5 592.5,2181.5 575,2196.5 558.8,2206.5 540,2210.3 472.5,2222.8 405,2230.3 328.8,2238.5 265,2244 205,2248.5" fill="#0000ff"/>
<polygon points="205,2248.5 265,2244 328.8,2238.5 405,2230.3 472.5,2222.8 540,2210.3 558.8,2206.5 575,2196.5 592.5,2181.5 612.5,2156.5 630,2131.5 646.3,2103.8 670,2057 695,2006.3 726.3,1932.5 751.3,1870 770.8,1816.3 701.3,1837.5 631.3,1858.8 565,1879.5 507.5,1898 453.8,1915.5 403.8,1932.5 391.3,1938 373.8,1977.5 345,2035 301.3,2106.5 297.5,2141.5 285,2171.5 265,2199 235,2229" fill="#0080ff"/>
<polygon points="265,2244 328.8,2238.5 405,2230.3 472.5,2222.8 540,2210.3 558.8,2206.5 575,2196.5 592.5,2181.5 612.5,2156.5 630,2131.5 646.3,2103.8 670,2057 695,2006.3 726.3,1932.5 751.3,1870 770.8,1816.3 701.3,1837.5 631.3,1858.8 565,1879.5 507.5,1898 453.8,1915.5 403.8,1932.5 391.3,1938 373.8,1977.5 345,2035 355,2060 358.8,2079 360,2104 357.5,2136.5 347.5,2169 330,2196.5 300,2224" fill="#00ffff"/>
<polygon points="328.8,2238.5 405,2230.3 472.5,2222.8 540,2210.3 558.8,2206.5 575,2196.5 592.5,2181.5 612.5,2156.5 630,2131.5 646.3,2103.8 670,2057 695,2006.3 726.3,1932.5 751.3,1870 770.8,1816.3 701.3,1837.5 631.3,1858.8 565,1879.5 507.5,1898 453.8,1915.5 403.8,1932.5 391.3,1938 373.8,1977.5 397.5,2017.5 415,2060 423.8,2100 422.5,2126.5 415,2159 397.5,2189 367.5,2216.5" fill="#00ff80"/>
<polygon points="405,2230.3 472.5,2222.8 540,2210.3 558.8,2206.5 575,2196.5 592.5,2181.5 612.5,2156.5 630,2131.5 646.3,2103.8 670,2057 695,2006.3 726.3,1932.5 751.3,1870 770.8,1816.3 701.3,1837.5 631.3,1858.8 565,1879.5 507.5,1898 453.8,1915.5 403.8,1932.5 430,1970 460,2017.5 480,2062.5 487.5,2079 492.5,2111.5 490,2141.5 480,2171.5 460,2196.5 430,2219" fill="#00ff00"/>
<polygon points="472.5,2222.8 540,2210.3 558.8,2206.5 575,2196.5 592.5,2181.5 612.5,2156.5 630,2131.5 646.3,2103.8 670,2057 695,2006.3 726.3,1932.5 751.3,1870 770.8,1816.3 701.3,1837.5 631.3,1858.8 565,1879.5 507.5,1898 453.8,1915.5 500,1970 535,2020 555,2062.5 563.8,2085 566.3,2111.5 562.5,2141.5 550,2171.5 530,2191.5 502.5,2209" fill="#80ff00"/>
<polygon points="670,2057 695,2006.3 726.3,1932.5 751.3,1870 770.8,1816.3 701.3,1837.5 631.3,1858.8 565,1879.5 507.5,1898 575,1965 625,2020 640,2062.5 646.3,2103.8" fill="#ffff00"/>
<polygon points="558.8,2206.5 575,2196.5 577.1,2194.7 560,2203 540,2210.3" fill="#ffff00"/>
<polygon points="695,2006.3 726.3,1932.5 751.3,1870 770.8,1816.3 701.3,1837.5 631.3,1858.8 565,1879.5" fill="#ffc000"/>
<polygon points="726.3,1932.5 751.3,1870 770.8,1816.3 701.3,1837.5 631.3,1858.8" fill="#ff8000"/>
<polygon points="751.3,1870 770.8,1816.3 701.3,1837.5" fill="#ff0000"/>
<clipPath id="clip_c"><polygon points="167.5,2249.8 195,2229 220,2205.3 245,2177.8 270,2147.8 290,2120.3 301.3,2106.5 345,2035 373.8,1977.5 391.3,1938 403.8,1932.5 453.8,1915.5 507.5,1898 565,1879.5 631.3,1858.8 701.3,1837.5 770.8,1816.3 751.3,1870 726.3,1932.5 695,2006.3 670,2057 646.3,2103.8 630,2131.5 612.5,2156.5 592.5,2181.5 575,2196.5 558.8,2206.5 540,2210.3 472.5,2222.8 405,2230.3 328.8,2238.5 265,2244 205,2248.5"/></clipPath>
<g clip-path="url(#clip_c)">
<polyline class="m" points="166.9,2250 194.3,2229.3 219.9,2205.2 244.1,2178.7 267.3,2151 289.4,2121.5 310.8,2091.2 331.4,2057.5 351.3,2022.2 370.7,1983.2 389.6,1940.1"/>
<polyline class="m" points="193.1,2249.3 220.3,2228.2 245.8,2203.6 270,2177.6 293.1,2150.1 315.3,2120.6 336.6,2088.6 357.1,2054.3 377.1,2016.4 396.5,1975.9 415.6,1930.6"/>
<polyline class="m" points="220,2247.8 247.1,2226.6 272.6,2201.9 296.7,2175.7 319.7,2147.4 341.8,2116.7 363,2083.9 383.6,2048.6 403.6,2009.6 423.2,1967.4 442.5,1921.1"/>
<polyline class="m" points="247.9,2245.6 275,2224.8 300.3,2200.4 324.3,2173.4 347.2,2144 369.2,2112.4 390.4,2079 411,2042 431.1,2001.4 450.8,1959 470.3,1910.7"/>
<polyline class="m" points="277,2243.5 303.8,2223 329,2198.4 352.8,2170.9 375.6,2140.7 397.6,2108.7 418.8,2073.7 439.4,2035.4 459.6,1994.2 479.5,1950.9 499.2,1902.3"/>
<polyline class="m" points="307.1,2240.5 333.7,2219.9 358.7,2195.4 382.4,2167.6 405.1,2137 427,2104.5 448.1,2067.7 468.8,2028.2 489.1,1987.4 509.1,1942.3 529.1,1891.4"/>
<polyline class="m" points="338.4,2238 364.8,2217.4 389.5,2192.5 413.1,2164.3 435.6,2133.3 457.4,2099.8 478.6,2061.8 499.3,2021.7 519.7,1979.9 539.9,1933 560.1,1881.1"/>
<polyline class="m" points="371.1,2234.1 397.1,2215.1 421.6,2190.2 444.9,2161.4 467.3,2129.6 489,2094.7 510.2,2056.2 530.9,2016.3 551.3,1972.9 571.8,1922.6 592.2,1871"/>
<polyline class="m" points="405.2,2231 430.8,2213 455,2187.5 478,2158 500.3,2125 521.9,2088.9 543,2050.1 563.6,2011 584.2,1964.4 605.2,1910.1 625.5,1861"/>
<polyline class="m" points="440.8,2226.5 465.9,2208.8 489.7,2183.8 512.5,2153.6 534.5,2120 555.9,2084.2 576.8,2047 597.5,2005.6 618.6,1953.9 639.5,1901.4 660.2,1850.1"/>
<polyline class="m" points="478,2222.5 502.5,2204.3 525.8,2179.4 548.3,2148.8 570.1,2115.5 591.2,2080.3 612,2042.9 633,1996.2 654.3,1943.1 675.1,1893.7 696.2,1838.5"/>
<polyline class="m" points="517.2,2214.8 540.9,2198.6 563.6,2174.9 585.6,2145 607.1,2111.4 628.1,2074.2 648.9,2033.7 670,1985.8 691.1,1935.6 712,1884.7 733.5,1827.8"/>
<polyline class="m" points="558.3,2207.2 581.1,2191.3 603.2,2168.3 624.7,2139.2 645.8,2104.3 667.1,2062.9 687.8,2021.4 708.8,1973.9 729.6,1925.9 751,1871.8 772.8,1813.2"/>
<polyline class="m" points="166.9,2250 193.1,2249.3 220,2247.8 247.9,2245.6 277,2243.5 307.1,2240.5 338.4,2238 371.1,2234.1 405.2,2231 440.8,2226.5 478,2222.5 517.2,2214.8 558.3,2207.2"/>
<polyline class="m" points="194.3,2229.3 220.3,2228.2 247.1,2226.6 275,2224.8 303.8,2223 333.7,2219.9 364.8,2217.4 397.1,2215.1 430.8,2213 465.9,2208.8 502.5,2204.3 540.9,2198.6 581.1,2191.3"/>
<polyline class="m" points="219.9,2205.2 245.8,2203.6 272.6,2201.9 300.3,2200.4 329,2198.4 358.7,2195.4 389.5,2192.5 421.6,2190.2 455,2187.5 489.7,2183.8 525.8,2179.4 563.6,2174.9 603.2,2168.3"/>
<polyline class="m" points="244.1,2178.7 270,2177.6 296.7,2175.7 324.3,2173.4 352.8,2170.9 382.4,2167.6 413.1,2164.3 444.9,2161.4 478,2158 512.5,2153.6 548.3,2148.8 585.6,2145 624.7,2139.2"/>
<polyline class="m" points="267.3,2151 293.1,2150.1 319.7,2147.4 347.2,2144 375.6,2140.7 405.1,2137 435.6,2133.3 467.3,2129.6 500.3,2125 534.5,2120 570.1,2115.5 607.1,2111.4 645.8,2104.3"/>
<polyline class="m" points="289.4,2121.5 315.3,2120.6 341.8,2116.7 369.2,2112.4 397.6,2108.7 427,2104.5 457.4,2099.8 489,2094.7 521.9,2088.9 555.9,2084.2 591.2,2080.3 628.1,2074.2 667.1,2062.9"/>
<polyline class="m" points="310.8,2091.2 336.6,2088.6 363,2083.9 390.4,2079 418.8,2073.7 448.1,2067.7 478.6,2061.8 510.2,2056.2 543,2050.1 576.8,2047 612,2042.9 648.9,2033.7 687.8,2021.4"/>
<polyline class="m" points="331.4,2057.5 357.1,2054.3 383.6,2048.6 411,2042 439.4,2035.4 468.8,2028.2 499.3,2021.7 530.9,2016.3 563.6,2011 597.5,2005.6 633,1996.2 670,1985.8 708.8,1973.9"/>
<polyline class="m" points="351.3,2022.2 377.1,2016.4 403.6,2009.6 431.1,2001.4 459.6,1994.2 489.1,1987.4 519.7,1979.9 551.3,1972.9 584.2,1964.4 618.6,1953.9 654.3,1943.1 691.1,1935.6 729.6,1925.9"/>
<polyline class="m" points="370.7,1983.2 396.5,1975.9 423.2,1967.4 450.8,1959 479.5,1950.9 509.1,1942.3 539.9,1933 571.8,1922.6 605.2,1910.1 639.5,1901.4 675.1,1893.7 712,1884.7 751,1871.8"/>
<polyline class="m" points="389.6,1940.1 415.6,1930.6 442.5,1921.1 470.3,1910.7 499.2,1902.3 529.1,1891.4 560.1,1881.1 592.2,1871 625.5,1861 660.2,1850.1 696.2,1838.5 733.5,1827.8 772.8,1813.2"/>
<polyline class="c" points="202.5,2250.1 205,2248.5 235,2229 265,2199 285,2171.5 297.5,2141.5 301.3,2106.5 301.6,2103.5"/>
<polyline class="c" points="262.4,2245.5 265,2244 300,2224 330,2196.5 347.5,2169 357.5,2136.5 360,2104 358.8,2079 355,2060 345,2035 343.9,2032.2"/>
<polyline class="c" points="326.2,2240 328.8,2238.5 367.5,2216.5 397.5,2189 415,2159 422.5,2126.5 423.8,2100 415,2060 397.5,2017.5 373.8,1977.5 372.3,1974.9"/>
<polyline class="c" points="402.3,2231.5 405,2230.3 430,2219 460,2196.5 480,2171.5 490,2141.5 492.5,2111.5 487.5,2079 480,2062.5 460,2017.5 430,1970 403.8,1932.5 402.1,1930"/>
<polyline class="c" points="469.8,2224.1 472.5,2222.8 502.5,2209 530,2191.5 550,2171.5 562.5,2141.5 566.3,2111.5 563.8,2085 555,2062.5 535,2020 500,1970 453.8,1915.5 451.9,1913.2"/>
<polyline class="c" points="646.8,2106.8 646.3,2103.8 640,2062.5 625,2020 575,1965 507.5,1898 505.4,1895.9"/>
<polyline class="c" points="537.2,2211.3 540,2210.3 560,2203 577.5,2194.5 580.2,2193.2"/>
<polyline class="c" points="697.1,2008.4 695,2006.3 565,1879.5 562.9,1877.4"/>
<polyline class="c" points="728.7,1934.3 726.3,1932.5 631.3,1858.8 628.9,1857"/>
<polyline class="c" points="753.8,1871.6 751.3,1870 701.3,1837.5 698.8,1835.9"/>
</g>
<polygon class="o" points="167.5,2249.8 195,2229 220,2205.3 245,2177.8 270,2147.8 290,2120.3 301.3,2106.5 345,2035 373.8,1977.5 391.3,1938 403.8,1932.5 453.8,1915.5 507.5,1898 565,1879.5 631.3,1858.8 701.3,1837.5 770.8,1816.3 751.3,1870 726.3,1932.5 695,2006.3 670,2057 646.3,2103.8 630,2131.5 612.5,2156.5 592.5,2181.5 575,2196.5 558.8,2206.5 540,2210.3 472.5,2222.8 405,2230.3 328.8,2238.5 265,2244 205,2248.5"/>
<line class="t" x1="169.3" y1="2264.3" x2="152.9" y2="2280"/>
<line class="t" x1="164.3" y1="2233.4" x2="155.9" y2="2241.2"/>
<line class="t" x1="159.1" y1="2201.5" x2="141.9" y2="2216.9"/>
<line class="t" x1="153.7" y1="2168.3" x2="145" y2="2175.9"/>
<line class="t" x1="148.1" y1="2134" x2="130.1" y2="2149"/>
<line class="t" x1="142.3" y1="2098.3" x2="133.2" y2="2105.7"/>
<line class="t" x1="136.2" y1="2061.2" x2="117.4" y2="2075.8"/>
<line class="t" x1="130" y1="2022.7" x2="120.4" y2="2029.8"/>
<line class="t" x1="123.5" y1="1982.6" x2="103.7" y2="1996.6"/>
<line class="t" x1="116.7" y1="1940.8" x2="106.6" y2="1947.6"/>
<line class="t" x1="109.6" y1="1897.3" x2="88.8" y2="1910.7"/>
<line class="t" x1="169.3" y1="2264.3" x2="152.9" y2="2280"/>
<line class="t" x1="197.1" y1="2276.7" x2="189.1" y2="2284.7"/>
<line class="t" x1="225.5" y1="2289.4" x2="209.5" y2="2305.7"/>
<line class="t" x1="254.5" y1="2302.3" x2="246.7" y2="2310.6"/>
<line class="t" x1="284.1" y1="2315.6" x2="268.5" y2="2332.5"/>
<line class="t" x1="314.4" y1="2329" x2="306.7" y2="2337.7"/>
<line class="t" x1="345.2" y1="2342.8" x2="330.1" y2="2360.5"/>
<line class="t" x1="376.8" y1="2356.9" x2="369.4" y2="2365.9"/>
<line class="t" x1="409" y1="2371.2" x2="394.4" y2="2389.7"/>
<line class="t" x1="441.9" y1="2385.9" x2="434.8" y2="2395.3"/>
<line class="t" x1="475.5" y1="2401" x2="461.6" y2="2420.3"/>
<line class="t" x1="510" y1="2416.3" x2="503.2" y2="2426.1"/>
<line class="t" x1="545.1" y1="2432" x2="531.8" y2="2452.2"/>
<line class="t" x1="545.1" y1="2432" x2="571" y2="2443.5"/>
<line class="t" x1="571.7" y1="2391.7" x2="584.3" y2="2397.1"/>
<line class="t" x1="596.7" y1="2353.6" x2="621.5" y2="2363.8"/>
<line class="t" x1="620.4" y1="2317.5" x2="632.5" y2="2322.4"/>
<line class="t" x1="642.8" y1="2283.4" x2="666.6" y2="2292.6"/>
<line class="t" x1="664.1" y1="2251" x2="675.7" y2="2255.3"/>
<line class="t" x1="684.3" y1="2220.2" x2="707.2" y2="2228.5"/>
<line class="t" x1="703.6" y1="2191" x2="714.8" y2="2194.9"/>
<line class="t" x1="721.9" y1="2163.1" x2="743.9" y2="2170.6"/>
<polyline class="a" points="109.6,1897.3 169.3,2264.3 545.1,2432 721.9,2163.1"/>
<text class="tl" x="64.2" y="1925.4">100</text>
<text class="tl" x="85.3" y="2011.2">80</text>
<text class="tl" x="98.6" y="2089.8">60</text>
<text class="tl" x="111.9" y="2162.7">40</text>
<text class="tl" x="124.7" y="2230.8">20</text>
<text class="tl" x="141.2" y="2294.3">0</text>
<text class="tl" x="140.3" y="2313.8">0.0</text>
<text class="tl" x="198.5" y="2340.4">0.2</text>
<text class="tl" x="258.6" y="2369.2">0.4</text>
<text class="tl" x="322.3" y="2398.4">0.6</text>
<text class="tl" x="387.8" y="2429.2">0.8</text>
<text class="tl" x="456.9" y="2462">1.0</text>
<text class="tl" x="529.1" y="2495.7">1.2</text>
<text class="tl" x="591.7" y="2471.8">10</text>
<text class="tl" x="642.6" y="2390.7">15</text>
<text class="tl" x="686" y="2315.6">20</text>
<text class="tl" x="727.8" y="2250.8">25</text>
<text class="tl" x="765" y="2191.4">30</text>
<text class="tt" transform="translate(295.2,2432.3) rotate(26.8)" y="8">Carbon, wt%</text>
<text class="tt" transform="translate(707.4,2357.7) rotate(-62)" y="8">Manganese, wt%</text>
<text class="ts" font-size="25.5" transform="translate(45.5,2134.9) rotate(77.5)" x="-56.6" y="7.4">SFE, mJ<tspan dx="-1.8">·</tspan><tspan dx="-1.9">m</tspan><tspan dy="-14.8" dx="2.3" font-size="11.5">-2</tspan></text>
<text class="pl" x="85.5" y="1854.5">(c)</text>
<rect x="802.5" y="1882.5" width="70.9" height="25.5" fill="#000000"/>
<rect x="802.5" y="1907.7" width="70.9" height="25.5" fill="#0000ff"/>
<rect x="802.5" y="1932.9" width="70.9" height="25.5" fill="#0080ff"/>
<rect x="802.5" y="1958.1" width="70.9" height="25.5" fill="#00ffff"/>
<rect x="802.5" y="1983.3" width="70.9" height="25.5" fill="#00ff80"/>
<rect x="802.5" y="2008.5" width="70.9" height="25.5" fill="#00ff00"/>
<rect x="802.5" y="2033.7" width="70.9" height="25.5" fill="#80ff00"/>
<rect x="802.5" y="2058.9" width="70.9" height="25.5" fill="#ffff00"/>
<rect x="802.5" y="2084.1" width="70.9" height="25.5" fill="#ffc000"/>
<rect x="802.5" y="2109.3" width="70.9" height="25.5" fill="#ff8000"/>
<rect x="802.5" y="2134.5" width="70.9" height="25.5" fill="#ff0000"/>
<text class="lg" x="878.7" y="1913.9">0</text>
<text class="lg" x="878.7" y="1939.1">10.00</text>
<text class="lg" x="878.7" y="1964.3">20.00</text>
<text class="lg" x="878.7" y="1989.5">30.00</text>
<text class="lg" x="878.7" y="2014.7">40.00</text>
<text class="lg" x="878.7" y="2039.9">50.00</text>
<text class="lg" x="878.7" y="2065.1">60.00</text>
<text class="lg" x="878.7" y="2090.3">70.00</text>
<text class="lg" x="878.7" y="2115.5">80.00</text>
<text class="lg" x="878.7" y="2140.7">90.00</text>
<text class="lg" x="878.7" y="2165.9">100.0</text>
</g>
<g id="p_d">
<line class="g" x1="1158.7" y1="482.3" x2="1390.9" y2="273.7"/>
<line class="g" x1="1390.9" y1="273.7" x2="1730.4" y2="383"/>
<line class="g" x1="1147.7" y1="414.8" x2="1389" y2="212.1"/>
<line class="g" x1="1389" y1="212.1" x2="1739.8" y2="317.9"/>
<line class="g" x1="1135.8" y1="342" x2="1387" y2="146.6"/>
<line class="g" x1="1387" y1="146.6" x2="1750" y2="248.2"/>
<line class="g" x1="1123.1" y1="263.4" x2="1384.8" y2="76.9"/>
<line class="g" x1="1384.8" y1="76.9" x2="1760.9" y2="173.3"/>
<line class="g" x1="1233.1" y1="483.9" x2="1189.6" y2="126.4"/>
<line class="g" x1="1233.1" y1="483.9" x2="1596.3" y2="634.4"/>
<line class="g" x1="1291.3" y1="428.4" x2="1261.1" y2="80.5"/>
<line class="g" x1="1291.3" y1="428.4" x2="1642.4" y2="564.2"/>
<line class="g" x1="1344.2" y1="377.9" x2="1325" y2="39.4"/>
<line class="g" x1="1344.2" y1="377.9" x2="1683.9" y2="501"/>
<line class="g" x1="1442.8" y1="348.8" x2="1441.2" y2="16.1"/>
<line class="g" x1="1225.1" y1="570.2" x2="1442.8" y2="348.8"/>
<line class="g" x1="1494.8" y1="366.5" x2="1502.1" y2="30.2"/>
<line class="g" x1="1283.7" y1="596.4" x2="1494.8" y2="366.5"/>
<line class="g" x1="1548.5" y1="384.9" x2="1565.6" y2="44.9"/>
<line class="g" x1="1344.8" y1="623.6" x2="1548.5" y2="384.9"/>
<line class="g" x1="1604.1" y1="403.9" x2="1631.7" y2="60.2"/>
<line class="g" x1="1408.6" y1="652" x2="1604.1" y2="403.9"/>
<line class="g" x1="1661.7" y1="423.5" x2="1700.6" y2="76.2"/>
<line class="g" x1="1475.1" y1="681.8" x2="1661.7" y2="423.5"/>
<line class="b" x1="1109.2" y1="178.1" x2="1382.6" y2="2.5"/>
<line class="b" x1="1382.6" y1="2.5" x2="1772.6" y2="92.8"/>
<line class="b" x1="1392.6" y1="331.7" x2="1382.6" y2="2.5"/>
<line class="b" x1="1721.5" y1="443.9" x2="1772.6" y2="92.8"/>
<line class="b" x1="1168.9" y1="545.1" x2="1392.6" y2="331.7"/>
<line class="b" x1="1392.6" y1="331.7" x2="1721.5" y2="443.9"/>
<polygon points="1163.8,507 1190,486.5 1216.2,465.8 1240.8,439.3 1267.3,410.9 1290,382.5 1316.5,340.9 1353.8,272.5 1381.3,217.5 1390,198.8 1418.8,187.5 1471.3,168.8 1526.3,149.5 1583.8,127.5 1645,103.8 1713.8,80 1756.3,110 1727.5,176.3 1692.5,253.8 1675,290 1653.5,331 1637,357 1618,380 1599,401 1580,414.5 1561,423 1532.5,431.5 1503.5,440.5 1474.5,449 1445.7,456.5 1417.3,463.5 1388.9,470.5 1325,483.8 1267.5,493.8 1212.5,501.3" fill="#0080ff"/>
<polygon points="1212.5,501.3 1267.5,493.8 1325,483.8 1388.9,470.5 1417.3,463.5 1445.7,456.5 1474.5,449 1503.5,440.5 1532.5,431.5 1561,423 1580,414.5 1599,401 1618,380 1637,357 1653.5,331 1675,290 1692.5,253.8 1727.5,176.3 1756.3,110 1713.8,80 1645,103.8 1583.8,127.5 1526.3,149.5 1471.3,168.8 1418.8,187.5 1390,198.8 1381.3,217.5 1353.8,272.5 1316.5,340.9 1317.5,352 1316.5,368 1311,392 1301,418 1287,443 1265,466 1240,485" fill="#00ffff"/>
<polygon points="1267.5,493.8 1325,483.8 1388.9,470.5 1417.3,463.5 1445.7,456.5 1474.5,449 1503.5,440.5 1532.5,431.5 1561,423 1580,414.5 1599,401 1618,380 1637,357 1653.5,331 1675,290 1692.5,253.8 1727.5,176.3 1756.3,110 1713.8,80 1645,103.8 1583.8,127.5 1526.3,149.5 1471.3,168.8 1418.8,187.5 1390,198.8 1381.3,217.5 1353.8,272.5 1365,300 1372.5,332.5 1373.8,355 1371,375 1364,400 1352,425 1335,447 1312,467 1290,483" fill="#00ff80"/>
<polygon points="1325,483.8 1388.9,470.5 1417.3,463.5 1445.7,456.5 1474.5,449 1503.5,440.5 1532.5,431.5 1561,423 1580,414.5 1599,401 1618,380 1637,357 1653.5,331 1675,290 1692.5,253.8 1727.5,176.3 1756.3,110 1713.8,80 1645,103.8 1583.8,127.5 1526.3,149.5 1471.3,168.8 1418.8,187.5 1390,198.8 1381.3,217.5 1397.5,240 1417.5,275 1428,310 1432.5,335 1432,349 1427,373.5 1417,396 1402,418 1385,438 1367.5,455 1345,473" fill="#00ff00"/>
<polygon points="1380.7,472.2 1388.9,470.5 1417.3,463.5 1445.7,456.5 1474.5,449 1503.5,440.5 1532.5,431.5 1561,423 1580,414.5 1599,401 1618,380 1637,357 1653.5,331 1675,290 1692.5,253.8 1727.5,176.3 1756.3,110 1713.8,80 1645,103.8 1583.8,127.5 1526.3,149.5 1471.3,168.8 1418.8,187.5 1440,215 1465,255 1485,295 1493.8,325 1494,341.4 1491.1,364.1 1481.7,386.8 1468.4,405.7 1449.5,424.6 1426.8,443.6 1404.1,460.6 1390.8,467.2" fill="#80ff00"/>
<polygon points="1433.7,459.5 1445.7,456.5 1474.5,449 1503.5,440.5 1532.5,431.5 1561,423 1580,414.5 1599,401 1618,380 1637,357 1653.5,331 1675,290 1692.5,253.8 1727.5,176.3 1756.3,110 1713.8,80 1645,103.8 1583.8,127.5 1526.3,149.5 1471.3,168.8 1510,212.5 1540,255 1555,287.5 1561,325 1559.2,348.9 1551.7,367.9 1540.3,386.8 1521.4,409.5 1502.5,424.6 1483.6,436 1464.6,445.4 1445.7,454" fill="#ffff00"/>
<polygon points="1498.1,442.1 1503.5,440.5 1532.5,431.5 1561,423 1580,414.5 1599,401 1618,380 1637,357 1653.5,331 1675,290 1692.5,253.8 1727.5,176.3 1756.3,110 1713.8,80 1645,103.8 1583.8,127.5 1526.3,149.5 1585,212.5 1612.5,250 1627.5,282.5 1631.3,310 1629.3,339.5 1623.6,358.4 1614.1,373.5 1600.9,388.7 1583.9,403.8 1563,415.2 1540.3,424.6 1517.6,433.1 1500,439.5" fill="#ffc000"/>
<polygon points="1692.5,253.8 1727.5,176.3 1756.3,110 1713.8,80 1645,103.8 1583.8,127.5 1640,180 1677.5,225" fill="#ff8000"/>
<polygon points="1727.5,176.3 1756.3,110 1713.8,80 1645,103.8" fill="#ff0000"/>
<clipPath id="clip_d"><polygon points="1163.8,507 1190,486.5 1216.2,465.8 1240.8,439.3 1267.3,410.9 1290,382.5 1316.5,340.9 1353.8,272.5 1381.3,217.5 1390,198.8 1418.8,187.5 1471.3,168.8 1526.3,149.5 1583.8,127.5 1645,103.8 1713.8,80 1756.3,110 1727.5,176.3 1692.5,253.8 1675,290 1653.5,331 1637,357 1618,380 1599,401 1580,414.5 1561,423 1532.5,431.5 1503.5,440.5 1474.5,449 1445.7,456.5 1417.3,463.5 1388.9,470.5 1325,483.8 1267.5,493.8 1212.5,501.3"/></clipPath>
<g clip-path="url(#clip_d)">
<polyline class="m" points="1162.7,507.2 1190.5,486.2 1216.8,464.8 1241.4,438.8 1265,413.3 1287.5,385.4 1309,352.7 1329.6,316.9 1349.8,281.9 1369.4,242 1388.6,199.9"/>
<polyline class="m" points="1188.8,504.2 1216.6,484.1 1242.8,461.5 1267.3,435.6 1290.8,408.2 1313.2,378.5 1334.8,346.6 1355.6,312.4 1375.9,277 1395.6,237 1414.8,190.4"/>
<polyline class="m" points="1216,501.3 1243.8,481.6 1269.7,458.2 1294.2,432.1 1317.6,403.5 1340,373.2 1361.5,341.3 1382.4,307.2 1402.7,270.1 1422.5,226.8 1442,179.5"/>
<polyline class="m" points="1244.1,497.1 1271.8,478.1 1297.7,454.8 1322.1,428.3 1345.3,399.1 1367.7,368.5 1389.3,336.1 1410.1,300.7 1430.5,260.5 1450.4,216 1470.1,170.9"/>
<polyline class="m" points="1273.5,493.4 1300.9,473.9 1326.6,450.3 1350.9,423.4 1374.1,393.9 1396.4,363 1417.9,329.6 1438.8,291.5 1459.3,249.6 1479.4,207 1499.3,159.4"/>
<polyline class="m" points="1303.9,487.7 1331.1,467.9 1356.6,443.4 1380.8,416.4 1403.9,387.3 1426.2,356.3 1447.7,321.7 1468.6,282.1 1489.2,241.7 1509.4,198.1 1529.5,148.9"/>
<polyline class="m" points="1335.6,481.3 1362.5,461 1387.8,435.8 1411.9,409 1434.9,380.5 1457.1,349.2 1478.6,313.6 1499.6,275 1520.2,233.6 1540.6,186.4 1561,136.3"/>
<polyline class="m" points="1368.7,472.3 1395.4,454.3 1420.5,429.5 1444.4,403.2 1467.2,374.5 1489.3,342.4 1510.7,306.8 1531.6,267.9 1552.4,223.8 1573.1,174.5 1593.6,124.1"/>
<polyline class="m" points="1403.5,463.5 1429.8,446.7 1454.6,422.9 1478.2,397 1500.8,367.8 1522.7,334.9 1544,298.9 1565,258.5 1585.9,213.1 1606.8,163.1 1627.6,110.8"/>
<polyline class="m" points="1440,455.6 1465.9,438.9 1490.2,415.6 1513.5,389.1 1535.8,360.1 1557.6,326.9 1578.8,289.7 1599.8,248.5 1620.8,202 1641.9,150.4 1663,97.8"/>
<polyline class="m" points="1478.4,445.7 1503.6,431.1 1527.4,409.7 1550.3,382.7 1572.4,352.7 1593.9,318.4 1615,280.6 1636.1,238 1657.3,189.2 1678.6,136.5 1699.7,84.8"/>
<polyline class="m" points="1519,432.9 1543.3,422.2 1566.3,404.5 1588.6,377.7 1610.5,344.6 1631.9,308.7 1652.9,270.8 1674,226.2 1695.4,175.8 1716.8,123.4 1737.8,72.2"/>
<polyline class="m" points="1561.9,418.8 1585.4,406.6 1607.9,386.9 1629.6,361.5 1650.9,331.4 1672,295 1693.1,253.8 1714.7,205.2 1735.5,159.2 1756.4,111.1 1777.3,60.5"/>
<polyline class="m" points="1162.7,507.2 1188.8,504.2 1216,501.3 1244.1,497.1 1273.5,493.4 1303.9,487.7 1335.6,481.3 1368.7,472.3 1403.5,463.5 1440,455.6 1478.4,445.7 1519,432.9 1561.9,418.8"/>
<polyline class="m" points="1190.5,486.2 1216.6,484.1 1243.8,481.6 1271.8,478.1 1300.9,473.9 1331.1,467.9 1362.5,461 1395.4,454.3 1429.8,446.7 1465.9,438.9 1503.6,431.1 1543.3,422.2 1585.4,406.6"/>
<polyline class="m" points="1216.8,464.8 1242.8,461.5 1269.7,458.2 1297.7,454.8 1326.6,450.3 1356.6,443.4 1387.8,435.8 1420.5,429.5 1454.6,422.9 1490.2,415.6 1527.4,409.7 1566.3,404.5 1607.9,386.9"/>
<polyline class="m" points="1241.4,438.8 1267.3,435.6 1294.2,432.1 1322.1,428.3 1350.9,423.4 1380.8,416.4 1411.9,409 1444.4,403.2 1478.2,397 1513.5,389.1 1550.3,382.7 1588.6,377.7 1629.6,361.5"/>
<polyline class="m" points="1265,413.3 1290.8,408.2 1317.6,403.5 1345.3,399.1 1374.1,393.9 1403.9,387.3 1434.9,380.5 1467.2,374.5 1500.8,367.8 1535.8,360.1 1572.4,352.7 1610.5,344.6 1650.9,331.4"/>
<polyline class="m" points="1287.5,385.4 1313.2,378.5 1340,373.2 1367.7,368.5 1396.4,363 1426.2,356.3 1457.1,349.2 1489.3,342.4 1522.7,334.9 1557.6,326.9 1593.9,318.4 1631.9,308.7 1672,295"/>
<polyline class="m" points="1309,352.7 1334.8,346.6 1361.5,341.3 1389.3,336.1 1417.9,329.6 1447.7,321.7 1478.6,313.6 1510.7,306.8 1544,298.9 1578.8,289.7 1615,280.6 1652.9,270.8 1693.1,253.8"/>
<polyline class="m" points="1329.6,316.9 1355.6,312.4 1382.4,307.2 1410.1,300.7 1438.8,291.5 1468.6,282.1 1499.6,275 1531.6,267.9 1565,258.5 1599.8,248.5 1636.1,238 1674,226.2 1714.7,205.2"/>
<polyline class="m" points="1349.8,281.9 1375.9,277 1402.7,270.1 1430.5,260.5 1459.3,249.6 1489.2,241.7 1520.2,233.6 1552.4,223.8 1585.9,213.1 1620.8,202 1657.3,189.2 1695.4,175.8 1735.5,159.2"/>
<polyline class="m" points="1369.4,242 1395.6,237 1422.5,226.8 1450.4,216 1479.4,207 1509.4,198.1 1540.6,186.4 1573.1,174.5 1606.8,163.1 1641.9,150.4 1678.6,136.5 1716.8,123.4 1756.4,111.1"/>
<polyline class="m" points="1388.6,199.9 1414.8,190.4 1442,179.5 1470.1,170.9 1499.3,159.4 1529.5,148.9 1561,136.3 1593.6,124.1 1627.6,110.8 1663,97.8 1699.7,84.8 1737.8,72.2 1777.3,60.5"/>
<polyline class="c" points="1209.9,502.8 1212.5,501.3 1240,485 1265,466 1287,443 1301,418 1311,392 1316.5,368 1317.5,352 1316.5,340.9 1316.2,337.9"/>
<polyline class="c" points="1264.8,495.1 1267.5,493.8 1290,483 1312,467 1335,447 1352,425 1364,400 1371,375 1373.8,355 1372.5,332.5 1365,300 1353.8,272.5 1352.7,269.7"/>
<polyline class="c" points="1322.4,485.2 1325,483.8 1345,473 1367.5,455 1385,438 1402,418 1417,396 1427,373.5 1432,349 1432.5,335 1428,310 1417.5,275 1397.5,240 1381.3,217.5 1379.5,215.1"/>
<polyline class="c" points="1388.1,468.5 1390.8,467.2 1404.1,460.6 1426.8,443.6 1449.5,424.6 1468.4,405.7 1481.7,386.8 1491.1,364.1 1494,341.4 1493.8,325 1485,295 1465,255 1440,215 1418.8,187.5 1417,185.1"/>
<polyline class="c" points="1443,455.2 1445.7,454 1464.6,445.4 1483.6,436 1502.5,424.6 1521.4,409.5 1540.3,386.8 1551.7,367.9 1559.2,348.9 1561,325 1555,287.5 1540,255 1510,212.5 1471.3,168.8 1469.3,166.6"/>
<polyline class="c" points="1494.2,447.4 1496,445 1500,439.5 1517.6,433.1 1540.3,424.6 1563,415.2 1583.9,403.8 1600.9,388.7 1614.1,373.5 1623.6,358.4 1629.3,339.5 1631.3,310 1627.5,282.5 1612.5,250 1585,212.5 1526.3,149.5 1524.3,147.3"/>
<polyline class="c" points="1693.9,256.5 1692.5,253.8 1677.5,225 1640,180 1583.8,127.5 1581.6,125.5"/>
<polyline class="c" points="1729.8,178.3 1727.5,176.3 1645,103.8 1642.7,101.8"/>
</g>
<polygon class="o" points="1163.8,507 1190,486.5 1216.2,465.8 1240.8,439.3 1267.3,410.9 1290,382.5 1316.5,340.9 1353.8,272.5 1381.3,217.5 1390,198.8 1418.8,187.5 1471.3,168.8 1526.3,149.5 1583.8,127.5 1645,103.8 1713.8,80 1756.3,110 1727.5,176.3 1692.5,253.8 1675,290 1653.5,331 1637,357 1618,380 1599,401 1580,414.5 1561,423 1532.5,431.5 1503.5,440.5 1474.5,449 1445.7,456.5 1417.3,463.5 1388.9,470.5 1325,483.8 1267.5,493.8 1212.5,501.3"/>
<line class="t" x1="1168.9" y1="545.1" x2="1152.5" y2="560.8"/>
<line class="t" x1="1163.9" y1="514.2" x2="1155.5" y2="522"/>
<line class="t" x1="1158.7" y1="482.3" x2="1141.5" y2="497.7"/>
<line class="t" x1="1153.3" y1="449.1" x2="1144.6" y2="456.7"/>
<line class="t" x1="1147.7" y1="414.8" x2="1129.7" y2="429.8"/>
<line class="t" x1="1141.9" y1="379.1" x2="1132.8" y2="386.5"/>
<line class="t" x1="1135.8" y1="342" x2="1117" y2="356.6"/>
<line class="t" x1="1129.6" y1="303.5" x2="1120" y2="310.6"/>
<line class="t" x1="1123.1" y1="263.4" x2="1103.3" y2="277.4"/>
<line class="t" x1="1116.3" y1="221.6" x2="1106.2" y2="228.4"/>
<line class="t" x1="1109.2" y1="178.1" x2="1088.4" y2="191.5"/>
<line class="t" x1="1168.9" y1="545.1" x2="1152.5" y2="560.8"/>
<line class="t" x1="1196.7" y1="557.5" x2="1188.7" y2="565.5"/>
<line class="t" x1="1225.1" y1="570.2" x2="1209.1" y2="586.5"/>
<line class="t" x1="1254.1" y1="583.1" x2="1246.3" y2="591.4"/>
<line class="t" x1="1283.7" y1="596.4" x2="1268.1" y2="613.3"/>
<line class="t" x1="1314" y1="609.8" x2="1306.3" y2="618.5"/>
<line class="t" x1="1344.8" y1="623.6" x2="1329.7" y2="641.3"/>
<line class="t" x1="1376.4" y1="637.7" x2="1369" y2="646.7"/>
<line class="t" x1="1408.6" y1="652" x2="1394" y2="670.5"/>
<line class="t" x1="1441.5" y1="666.7" x2="1434.4" y2="676.1"/>
<line class="t" x1="1475.1" y1="681.8" x2="1461.2" y2="701.1"/>
<line class="t" x1="1509.6" y1="697.1" x2="1502.8" y2="706.9"/>
<line class="t" x1="1544.7" y1="712.8" x2="1531.4" y2="733"/>
<line class="t" x1="1544.7" y1="712.8" x2="1570.6" y2="724.3"/>
<line class="t" x1="1571.3" y1="672.5" x2="1583.9" y2="677.9"/>
<line class="t" x1="1596.3" y1="634.4" x2="1621.1" y2="644.6"/>
<line class="t" x1="1620" y1="598.3" x2="1632.1" y2="603.2"/>
<line class="t" x1="1642.4" y1="564.2" x2="1666.2" y2="573.4"/>
<line class="t" x1="1663.7" y1="531.8" x2="1675.3" y2="536.1"/>
<line class="t" x1="1683.9" y1="501" x2="1706.8" y2="509.3"/>
<line class="t" x1="1703.2" y1="471.8" x2="1714.4" y2="475.7"/>
<line class="t" x1="1721.5" y1="443.9" x2="1743.5" y2="451.4"/>
<polyline class="a" points="1109.2,178.1 1168.9,545.1 1544.7,712.8 1721.5,443.9"/>
<text class="tl" x="1063.8" y="206.2">100</text>
<text class="tl" x="1084.9" y="292">80</text>
<text class="tl" x="1098.2" y="370.6">60</text>
<text class="tl" x="1111.5" y="443.5">40</text>
<text class="tl" x="1124.3" y="511.6">20</text>
<text class="tl" x="1140.8" y="575.1">0</text>
<text class="tl" x="1139.9" y="594.6">0.0</text>
<text class="tl" x="1198.1" y="621.2">0.2</text>
<text class="tl" x="1258.2" y="650">0.4</text>
<text class="tl" x="1321.9" y="679.2">0.6</text>
<text class="tl" x="1387.4" y="710">0.8</text>
<text class="tl" x="1456.5" y="742.8">1.0</text>
<text class="tl" x="1528.7" y="776.5">1.2</text>
<text class="tl" x="1591.3" y="752.6">10</text>
<text class="tl" x="1642.2" y="671.5">15</text>
<text class="tl" x="1685.6" y="596.4">20</text>
<text class="tl" x="1727.4" y="531.6">25</text>
<text class="tl" x="1764.6" y="472.2">30</text>
<text class="tt" transform="translate(1294.8,713.1) rotate(26.8)" y="8">Carbon, wt%</text>
<text class="tt" transform="translate(1712.8,639.7) rotate(-62)" y="8">Manganese, wt%</text>
<text class="ts" font-size="25.5" transform="translate(1038.5,454.4) rotate(77.3)" x="-56.6" y="7.4">SFE, mJ<tspan dx="-1.8">·</tspan><tspan dx="-1.9">m</tspan><tspan dy="-14.8" dx="2.3" font-size="11.5">-2</tspan></text>
<text class="pl" x="1090.5" y="137.5">(d)</text>
<rect x="1813" y="166.3" width="70.9" height="25.5" fill="#000000"/>
<rect x="1813" y="191.5" width="70.9" height="25.5" fill="#0000ff"/>
<rect x="1813" y="216.7" width="70.9" height="25.5" fill="#0080ff"/>
<rect x="1813" y="241.9" width="70.9" height="25.5" fill="#00ffff"/>
<rect x="1813" y="267.1" width="70.9" height="25.5" fill="#00ff80"/>
<rect x="1813" y="292.3" width="70.9" height="25.5" fill="#00ff00"/>
<rect x="1813" y="317.5" width="70.9" height="25.5" fill="#80ff00"/>
<rect x="1813" y="342.7" width="70.9" height="25.5" fill="#ffff00"/>
<rect x="1813" y="367.9" width="70.9" height="25.5" fill="#ffc000"/>
<rect x="1813" y="393.1" width="70.9" height="25.5" fill="#ff8000"/>
<rect x="1813" y="418.3" width="70.9" height="25.5" fill="#ff0000"/>
<text class="lg" x="1889.2" y="197.7">0</text>
<text class="lg" x="1889.2" y="222.9">10.00</text>
<text class="lg" x="1889.2" y="248.1">20.00</text>
<text class="lg" x="1889.2" y="273.3">30.00</text>
<text class="lg" x="1889.2" y="298.5">40.00</text>
<text class="lg" x="1889.2" y="323.7">50.00</text>
<text class="lg" x="1889.2" y="348.9">60.00</text>
<text class="lg" x="1889.2" y="374.1">70.00</text>
<text class="lg" x="1889.2" y="399.3">80.00</text>
<text class="lg" x="1889.2" y="424.5">90.00</text>
<text class="lg" x="1889.2" y="449.7">100.0</text>
</g>
<g id="p_e">
<line class="g" x1="1176.4" y1="1341.1" x2="1407.8" y2="1133.2"/>
<line class="g" x1="1407.8" y1="1133.2" x2="1746.1" y2="1242.1"/>
<line class="g" x1="1165.4" y1="1273.8" x2="1405.9" y2="1071.8"/>
<line class="g" x1="1405.9" y1="1071.8" x2="1755.6" y2="1177.3"/>
<line class="g" x1="1153.7" y1="1201.3" x2="1403.9" y2="1006.6"/>
<line class="g" x1="1403.9" y1="1006.6" x2="1765.7" y2="1107.8"/>
<line class="g" x1="1140.9" y1="1122.9" x2="1401.8" y2="937.1"/>
<line class="g" x1="1401.8" y1="937.1" x2="1776.6" y2="1033.2"/>
<line class="g" x1="1250.6" y1="1342.7" x2="1207.3" y2="986.5"/>
<line class="g" x1="1250.6" y1="1342.7" x2="1612.5" y2="1492.7"/>
<line class="g" x1="1308.6" y1="1287.4" x2="1278.5" y2="940.7"/>
<line class="g" x1="1308.6" y1="1287.4" x2="1658.5" y2="1422.7"/>
<line class="g" x1="1361.3" y1="1237.1" x2="1342.2" y2="899.8"/>
<line class="g" x1="1361.3" y1="1237.1" x2="1699.9" y2="1359.8"/>
<line class="g" x1="1459.6" y1="1208.1" x2="1457.9" y2="876.5"/>
<line class="g" x1="1242.6" y1="1428.7" x2="1459.6" y2="1208.1"/>
<line class="g" x1="1511.3" y1="1225.8" x2="1518.7" y2="890.6"/>
<line class="g" x1="1301" y1="1454.8" x2="1511.3" y2="1225.8"/>
<line class="g" x1="1564.9" y1="1244" x2="1581.9" y2="905.2"/>
<line class="g" x1="1361.9" y1="1482" x2="1564.9" y2="1244"/>
<line class="g" x1="1620.3" y1="1263" x2="1647.8" y2="920.5"/>
<line class="g" x1="1425.5" y1="1510.3" x2="1620.3" y2="1263"/>
<line class="g" x1="1677.7" y1="1282.6" x2="1716.5" y2="936.4"/>
<line class="g" x1="1491.8" y1="1539.9" x2="1677.7" y2="1282.6"/>
<line class="b" x1="1127.1" y1="1038" x2="1399.5" y2="863"/>
<line class="b" x1="1399.5" y1="863" x2="1788.2" y2="953"/>
<line class="b" x1="1409.6" y1="1191.1" x2="1399.5" y2="863"/>
<line class="b" x1="1737.3" y1="1302.9" x2="1788.2" y2="953"/>
<line class="b" x1="1186.6" y1="1403.7" x2="1409.6" y2="1191.1"/>
<line class="b" x1="1409.6" y1="1191.1" x2="1737.3" y2="1302.9"/>
<polygon points="1176.8,1340.9 1204.6,1324.3 1228.3,1307.7 1249.6,1290 1265,1270 1280,1247.5 1312,1205 1343.8,1158.8 1377.5,1095 1400,1043.8 1405,1034.5 1447.5,1020 1500,997.5 1553.8,976.3 1612.5,952.5 1675,927.5 1748.8,997.5 1710,1075 1693,1103 1675.2,1130 1663.9,1148.9 1645,1173.5 1626,1190.6 1607.1,1201.9 1588.2,1211.4 1569.3,1218.9 1540.9,1230.3 1512.5,1239.8 1484.1,1251.1 1455.7,1262.5 1427.3,1271.9 1398.9,1283.3 1380,1289.9 1340,1303.8 1282.5,1321.3 1230,1334.5" fill="#0080ff"/>
<polygon points="1176.8,1340.9 1230,1334.5 1282.5,1321.3 1340,1303.8 1380,1289.9 1398.9,1283.3 1427.3,1271.9 1455.7,1262.5 1484.1,1251.1 1512.5,1239.8 1540.9,1230.3 1569.3,1218.9 1588.2,1211.4 1607.1,1201.9 1626,1190.6 1645,1173.5 1663.9,1148.9 1675.2,1130 1693,1103 1710,1075 1748.8,997.5 1675,927.5 1612.5,952.5 1553.8,976.3 1500,997.5 1447.5,1020 1405,1034.5 1400,1043.8 1377.5,1095 1343.8,1158.8 1312,1205 1280,1247.5 1271,1272 1257.8,1290 1240.1,1305.4 1216.4,1321.9 1190,1334" fill="#00ffff"/>
<polygon points="1230,1334.5 1282.5,1321.3 1340,1303.8 1380,1289.9 1398.9,1283.3 1427.3,1271.9 1455.7,1262.5 1484.1,1251.1 1512.5,1239.8 1540.9,1230.3 1569.3,1218.9 1588.2,1211.4 1607.1,1201.9 1626,1190.6 1645,1173.5 1663.9,1148.9 1675.2,1130 1693,1103 1710,1075 1748.8,997.5 1675,927.5 1612.5,952.5 1553.8,976.3 1500,997.5 1447.5,1020 1405,1034.5 1400,1043.8 1377.5,1095 1343.8,1158.8 1346.3,1175 1345,1195 1337.5,1227.5 1322.5,1257.5 1300,1285 1270,1310" fill="#00ff80"/>
<polygon points="1282.5,1321.3 1340,1303.8 1380,1289.9 1398.9,1283.3 1427.3,1271.9 1455.7,1262.5 1484.1,1251.1 1512.5,1239.8 1540.9,1230.3 1569.3,1218.9 1588.2,1211.4 1607.1,1201.9 1626,1190.6 1645,1173.5 1663.9,1148.9 1675.2,1130 1693,1103 1710,1075 1748.8,997.5 1675,927.5 1612.5,952.5 1553.8,976.3 1500,997.5 1447.5,1020 1405,1034.5 1400,1043.8 1377.5,1095 1390,1122.5 1399,1155 1401.3,1185 1395,1212 1380,1240 1357.5,1267.5 1325,1295" fill="#00ff00"/>
<polygon points="1340,1303.8 1380,1289.9 1398.9,1283.3 1427.3,1271.9 1455.7,1262.5 1484.1,1251.1 1512.5,1239.8 1540.9,1230.3 1569.3,1218.9 1588.2,1211.4 1607.1,1201.9 1626,1190.6 1645,1173.5 1663.9,1148.9 1675.2,1130 1693,1103 1710,1075 1748.8,997.5 1675,927.5 1612.5,952.5 1553.8,976.3 1500,997.5 1447.5,1020 1405,1034.5 1400,1043.8 1420,1075 1440,1110 1450,1130 1455.7,1152.7 1453.8,1179.2 1444.3,1205.7 1429.2,1230.3 1408.4,1253 1385.7,1275.7 1365,1290" fill="#80ff00"/>
<polygon points="1420.6,1274.6 1427.3,1271.9 1455.7,1262.5 1484.1,1251.1 1512.5,1239.8 1540.9,1230.3 1569.3,1218.9 1588.2,1211.4 1607.1,1201.9 1626,1190.6 1645,1173.5 1663.9,1148.9 1675.2,1130 1693,1103 1710,1075 1748.8,997.5 1675,927.5 1612.5,952.5 1553.8,976.3 1500,997.5 1447.5,1020 1470,1047 1487,1070 1503,1103 1512.5,1130 1515.3,1152.7 1512.5,1179.2 1501.1,1205.7 1482.2,1228.4 1459.5,1247.3 1440,1261" fill="#c8ff00"/>
<polygon points="1484.6,1250.9 1512.5,1239.8 1540.9,1230.3 1569.3,1218.9 1588.2,1211.4 1607.1,1201.9 1626,1190.6 1645,1173.5 1663.9,1148.9 1675.2,1130 1693,1103 1710,1075 1748.8,997.5 1675,927.5 1612.5,952.5 1553.8,976.3 1500,997.5 1542.5,1047.5 1565,1087.5 1573,1115 1576.8,1130 1576.8,1148.9 1571.1,1173.5 1559.8,1194.3 1542.8,1213.3 1523.8,1228.4 1503,1241.7 1486,1250.2" fill="#ffff00"/>
<polygon points="1599.5,1205.7 1607.1,1201.9 1626,1190.6 1645,1173.5 1663.9,1148.9 1675.2,1130 1693,1103 1710,1075 1748.8,997.5 1675,927.5 1612.5,952.5 1553.8,976.3 1590,1015 1620,1052.5 1635,1080 1642.5,1110 1642.1,1130 1639.3,1148.9 1631.7,1167.9 1620.3,1184.9 1605.2,1200" fill="#ff8000"/>
<polygon points="1710,1075 1748.8,997.5 1675,927.5 1612.5,952.5 1660,1000 1685,1032.5 1700,1055" fill="#ff0000"/>
<clipPath id="clip_e"><polygon points="1176.8,1340.9 1204.6,1324.3 1228.3,1307.7 1249.6,1290 1265,1270 1280,1247.5 1312,1205 1343.8,1158.8 1377.5,1095 1400,1043.8 1405,1034.5 1447.5,1020 1500,997.5 1553.8,976.3 1612.5,952.5 1675,927.5 1748.8,997.5 1710,1075 1693,1103 1675.2,1130 1663.9,1148.9 1645,1173.5 1626,1190.6 1607.1,1201.9 1588.2,1211.4 1569.3,1218.9 1540.9,1230.3 1512.5,1239.8 1484.1,1251.1 1455.7,1262.5 1427.3,1271.9 1398.9,1283.3 1380,1289.9 1340,1303.8 1282.5,1321.3 1230,1334.5"/></clipPath>
<g clip-path="url(#clip_e)">
<polyline class="m" points="1176.4,1341.4 1205,1323.9 1231.9,1304.7 1256.8,1280.5 1279.9,1248.1 1302.5,1217.7 1324.4,1187.3 1345.4,1154.7 1365.7,1117.8 1385.4,1077.1 1404.8,1034.6"/>
<polyline class="m" points="1202.8,1337.8 1231,1318.3 1257.5,1296.4 1282.3,1270.6 1305.9,1241.7 1328.6,1212.5 1350.5,1182.3 1371.5,1148.7 1391.9,1110.1 1411.6,1065.8 1431.2,1025.2"/>
<polyline class="m" points="1230.1,1333.6 1258,1313 1284.4,1290.2 1309.2,1264.5 1332.9,1236.8 1355.6,1207.5 1377.4,1175.9 1398.5,1140 1418.9,1098.6 1438.9,1056.4 1458.6,1014.6"/>
<polyline class="m" points="1258.3,1327.5 1286.2,1306.9 1312.4,1284.1 1337.2,1258.7 1360.9,1231.1 1383.5,1201.4 1405.3,1168.3 1426.4,1130.5 1446.9,1089.6 1467.1,1048.7 1487,1003.7"/>
<polyline class="m" points="1287.6,1319.6 1315.4,1299.5 1341.5,1276.7 1366.3,1251.4 1389.9,1223.7 1412.5,1193.6 1434.3,1160.1 1455.4,1122.2 1476.1,1082.1 1496.4,1039 1516.5,991.5"/>
<polyline class="m" points="1318.2,1310.6 1345.9,1291.5 1371.9,1268.1 1396.5,1242.4 1420,1214.7 1442.6,1184.5 1464.4,1151 1485.5,1112.9 1506.3,1072.4 1526.8,1027.4 1547.1,978.8"/>
<polyline class="m" points="1350.2,1300.4 1377.8,1283 1403.5,1258.9 1428,1233.5 1451.4,1206 1473.9,1175.8 1495.6,1141.7 1516.9,1103.1 1537.7,1061.9 1558.4,1014.7 1578.9,966.1"/>
<polyline class="m" points="1383.8,1288.7 1411.1,1273.6 1436.7,1250.9 1461,1226.1 1484.2,1198.6 1506.5,1167.4 1528.2,1132 1549.4,1092.8 1570.4,1049.2 1591.3,1001.2 1611.9,952.6"/>
<polyline class="m" points="1419.1,1275.3 1446.1,1262.5 1471.4,1241.8 1495.4,1217.9 1518.3,1189.9 1540.5,1157.7 1562.2,1120.8 1583.4,1081.3 1604.5,1036.4 1625.6,987.6 1646.3,939"/>
<polyline class="m" points="1456.5,1262 1482.9,1250.6 1507.7,1231.5 1531.3,1207.4 1554,1179.3 1576,1146.8 1597.6,1110.1 1618.8,1069.6 1640,1023.7 1661.3,973.4 1682.2,924.6"/>
<polyline class="m" points="1495.9,1246.4 1521.6,1237.3 1545.8,1221.8 1569,1198.2 1591.3,1169.3 1613.2,1135.5 1634.6,1098.1 1655.9,1056.2 1677.3,1008.2 1698.7,957.5 1719.5,909.7"/>
<polyline class="m" points="1537.7,1231.3 1562.5,1222.4 1585.8,1211.3 1608.4,1187.5 1630.5,1157.1 1652.2,1121.9 1673.3,1086.1 1694.7,1041.5 1716.2,993.3 1737.5,943.1 1758.3,895.5"/>
<polyline class="m" points="1582,1213.6 1606.1,1202.4 1628.8,1188.3 1650.8,1166.2 1672.6,1134.5 1693.8,1101.5 1714.3,1068.9 1735.7,1024 1756.6,979.4 1777.9,929.1 1798.7,880.9"/>
<polyline class="m" points="1176.4,1341.4 1202.8,1337.8 1230.1,1333.6 1258.3,1327.5 1287.6,1319.6 1318.2,1310.6 1350.2,1300.4 1383.8,1288.7 1419.1,1275.3 1456.5,1262 1495.9,1246.4 1537.7,1231.3 1582,1213.6"/>
<polyline class="m" points="1205,1323.9 1231,1318.3 1258,1313 1286.2,1306.9 1315.4,1299.5 1345.9,1291.5 1377.8,1283 1411.1,1273.6 1446.1,1262.5 1482.9,1250.6 1521.6,1237.3 1562.5,1222.4 1606.1,1202.4"/>
<polyline class="m" points="1231.9,1304.7 1257.5,1296.4 1284.4,1290.2 1312.4,1284.1 1341.5,1276.7 1371.9,1268.1 1403.5,1258.9 1436.7,1250.9 1471.4,1241.8 1507.7,1231.5 1545.8,1221.8 1585.8,1211.3 1628.8,1188.3"/>
<polyline class="m" points="1256.8,1280.5 1282.3,1270.6 1309.2,1264.5 1337.2,1258.7 1366.3,1251.4 1396.5,1242.4 1428,1233.5 1461,1226.1 1495.4,1217.9 1531.3,1207.4 1569,1198.2 1608.4,1187.5 1650.8,1166.2"/>
<polyline class="m" points="1279.9,1248.1 1305.9,1241.7 1332.9,1236.8 1360.9,1231.1 1389.9,1223.7 1420,1214.7 1451.4,1206 1484.2,1198.6 1518.3,1189.9 1554,1179.3 1591.3,1169.3 1630.5,1157.1 1672.6,1134.5"/>
<polyline class="m" points="1302.5,1217.7 1328.6,1212.5 1355.6,1207.5 1383.5,1201.4 1412.5,1193.6 1442.6,1184.5 1473.9,1175.8 1506.5,1167.4 1540.5,1157.7 1576,1146.8 1613.2,1135.5 1652.2,1121.9 1693.8,1101.5"/>
<polyline class="m" points="1324.4,1187.3 1350.5,1182.3 1377.4,1175.9 1405.3,1168.3 1434.3,1160.1 1464.4,1151 1495.6,1141.7 1528.2,1132 1562.2,1120.8 1597.6,1110.1 1634.6,1098.1 1673.3,1086.1 1714.3,1068.9"/>
<polyline class="m" points="1345.4,1154.7 1371.5,1148.7 1398.5,1140 1426.4,1130.5 1455.4,1122.2 1485.5,1112.9 1516.9,1103.1 1549.4,1092.8 1583.4,1081.3 1618.8,1069.6 1655.9,1056.2 1694.7,1041.5 1735.7,1024"/>
<polyline class="m" points="1365.7,1117.8 1391.9,1110.1 1418.9,1098.6 1446.9,1089.6 1476.1,1082.1 1506.3,1072.4 1537.7,1061.9 1570.4,1049.2 1604.5,1036.4 1640,1023.7 1677.3,1008.2 1716.2,993.3 1756.6,979.4"/>
<polyline class="m" points="1385.4,1077.1 1411.6,1065.8 1438.9,1056.4 1467.1,1048.7 1496.4,1039 1526.8,1027.4 1558.4,1014.7 1591.3,1001.2 1625.6,987.6 1661.3,973.4 1698.7,957.5 1737.5,943.1 1777.9,929.1"/>
<polyline class="m" points="1404.8,1034.6 1431.2,1025.2 1458.6,1014.6 1487,1003.7 1516.5,991.5 1547.1,978.8 1578.9,966.1 1611.9,952.6 1646.3,939 1682.2,924.6 1719.5,909.7 1758.3,895.5 1798.7,880.9"/>
<polyline class="c" points="1174.1,1342.3 1176.8,1340.9 1190,1334 1216.4,1321.9 1240.1,1305.4 1257.8,1290 1271,1272 1280,1247.5 1281,1244.7"/>
<polyline class="c" points="1227.4,1336.1 1230,1334.5 1270,1310 1300,1285 1322.5,1257.5 1337.5,1227.5 1345,1195 1346.3,1175 1343.8,1158.8 1343.3,1155.8"/>
<polyline class="c" points="1279.9,1322.9 1282.5,1321.3 1325,1295 1357.5,1267.5 1380,1240 1395,1212 1401.3,1185 1399,1155 1390,1122.5 1377.5,1095 1376.3,1092.3"/>
<polyline class="c" points="1337.4,1305.2 1340,1303.8 1365,1290 1385.7,1275.7 1408.4,1253 1429.2,1230.3 1444.3,1205.7 1453.8,1179.2 1455.7,1152.7 1450,1130 1440,1110 1420,1075 1400,1043.8 1398.4,1041.3"/>
<polyline class="c" points="1417.5,1276.7 1420,1275 1440,1261 1459.5,1247.3 1482.2,1228.4 1501.1,1205.7 1512.5,1179.2 1515.3,1152.7 1512.5,1130 1503,1103 1487,1070 1470,1047 1447.5,1020 1445.6,1017.7"/>
<polyline class="c" points="1483.3,1251.5 1486,1250.2 1503,1241.7 1523.8,1228.4 1542.8,1213.3 1559.8,1194.3 1571.1,1173.5 1576.8,1148.9 1576.8,1130 1573,1115 1565,1087.5 1542.5,1047.5 1500,997.5 1498.1,995.2"/>
<polyline class="c" points="1595.5,1209.7 1597.6,1207.6 1605.2,1200 1620.3,1184.9 1631.7,1167.9 1639.3,1148.9 1642.1,1130 1642.5,1110 1635,1080 1620,1052.5 1590,1015 1553.8,976.3 1551.8,974.1"/>
<polyline class="c" points="1711.3,1077.7 1710,1075 1700,1055 1685,1032.5 1660,1000 1612.5,952.5 1610.4,950.4"/>
</g>
<polygon class="o" points="1176.8,1340.9 1204.6,1324.3 1228.3,1307.7 1249.6,1290 1265,1270 1280,1247.5 1312,1205 1343.8,1158.8 1377.5,1095 1400,1043.8 1405,1034.5 1447.5,1020 1500,997.5 1553.8,976.3 1612.5,952.5 1675,927.5 1748.8,997.5 1710,1075 1693,1103 1675.2,1130 1663.9,1148.9 1645,1173.5 1626,1190.6 1607.1,1201.9 1588.2,1211.4 1569.3,1218.9 1540.9,1230.3 1512.5,1239.8 1484.1,1251.1 1455.7,1262.5 1427.3,1271.9 1398.9,1283.3 1380,1289.9 1340,1303.8 1282.5,1321.3 1230,1334.5"/>
<line class="t" x1="1186.6" y1="1403.7" x2="1170.2" y2="1419.3"/>
<line class="t" x1="1181.6" y1="1373" x2="1173.3" y2="1380.7"/>
<line class="t" x1="1176.4" y1="1341.1" x2="1159.3" y2="1356.5"/>
<line class="t" x1="1171" y1="1308.1" x2="1162.3" y2="1315.6"/>
<line class="t" x1="1165.4" y1="1273.8" x2="1147.6" y2="1288.8"/>
<line class="t" x1="1159.7" y1="1238.3" x2="1150.6" y2="1245.6"/>
<line class="t" x1="1153.7" y1="1201.3" x2="1134.9" y2="1215.9"/>
<line class="t" x1="1147.4" y1="1162.9" x2="1137.9" y2="1170"/>
<line class="t" x1="1140.9" y1="1122.9" x2="1121.2" y2="1137"/>
<line class="t" x1="1134.1" y1="1081.3" x2="1124.1" y2="1088.1"/>
<line class="t" x1="1127.1" y1="1038" x2="1106.3" y2="1051.3"/>
<line class="t" x1="1186.6" y1="1403.7" x2="1170.2" y2="1419.3"/>
<line class="t" x1="1214.3" y1="1416.1" x2="1206.3" y2="1424"/>
<line class="t" x1="1242.6" y1="1428.7" x2="1226.7" y2="1445"/>
<line class="t" x1="1271.5" y1="1441.6" x2="1263.7" y2="1449.9"/>
<line class="t" x1="1301" y1="1454.8" x2="1285.5" y2="1471.7"/>
<line class="t" x1="1331.2" y1="1468.2" x2="1323.6" y2="1476.8"/>
<line class="t" x1="1361.9" y1="1482" x2="1346.9" y2="1499.6"/>
<line class="t" x1="1393.3" y1="1496" x2="1386" y2="1504.9"/>
<line class="t" x1="1425.5" y1="1510.3" x2="1410.9" y2="1528.7"/>
<line class="t" x1="1458.3" y1="1524.9" x2="1451.2" y2="1534.3"/>
<line class="t" x1="1491.8" y1="1539.9" x2="1477.9" y2="1559.2"/>
<line class="t" x1="1526.1" y1="1555.2" x2="1519.3" y2="1565"/>
<line class="t" x1="1561.2" y1="1570.9" x2="1547.9" y2="1591"/>
<line class="t" x1="1561.2" y1="1570.9" x2="1586.9" y2="1582.3"/>
<line class="t" x1="1587.6" y1="1530.6" x2="1600.1" y2="1536"/>
<line class="t" x1="1612.5" y1="1492.7" x2="1637.2" y2="1502.9"/>
<line class="t" x1="1636.1" y1="1456.8" x2="1648.2" y2="1461.6"/>
<line class="t" x1="1658.5" y1="1422.7" x2="1682.2" y2="1431.9"/>
<line class="t" x1="1679.7" y1="1390.5" x2="1691.3" y2="1394.8"/>
<line class="t" x1="1699.9" y1="1359.8" x2="1722.7" y2="1368.1"/>
<line class="t" x1="1719" y1="1330.6" x2="1730.2" y2="1334.6"/>
<line class="t" x1="1737.3" y1="1302.9" x2="1759.3" y2="1310.4"/>
<polyline class="a" points="1127.1,1038 1186.6,1403.7 1561.2,1570.9 1737.3,1302.9"/>
<text class="tl" x="1081.9" y="1066">100</text>
<text class="tl" x="1102.9" y="1151.5">80</text>
<text class="tl" x="1116.1" y="1229.8">60</text>
<text class="tl" x="1129.4" y="1302.5">40</text>
<text class="tl" x="1142.1" y="1370.4">20</text>
<text class="tl" x="1158.6" y="1433.6">0</text>
<text class="tl" x="1157.7" y="1453.1">0.0</text>
<text class="tl" x="1215.7" y="1479.6">0.2</text>
<text class="tl" x="1275.6" y="1508.3">0.4</text>
<text class="tl" x="1339.1" y="1537.4">0.6</text>
<text class="tl" x="1404.4" y="1568.1">0.8</text>
<text class="tl" x="1473.2" y="1600.8">1.0</text>
<text class="tl" x="1545.2" y="1634.4">1.2</text>
<text class="tl" x="1607.6" y="1610.5">10</text>
<text class="tl" x="1658.3" y="1529.7">15</text>
<text class="tl" x="1701.5" y="1454.9">20</text>
<text class="tl" x="1743.2" y="1390.3">25</text>
<text class="tl" x="1780.3" y="1331.1">30</text>
<text class="tt" transform="translate(1313.1,1575.2) rotate(26.8)" y="8">Carbon, wt%</text>
<text class="tt" transform="translate(1746.1,1489.4) rotate(-62)" y="8">Manganese, wt%</text>
<text class="ts" font-size="25.5" transform="translate(1043.5,1279.5) rotate(-96.9)" x="-56.6" y="7.4">SFE, mJ<tspan dx="-1.8">·</tspan><tspan dx="-1.9">m</tspan><tspan dy="-14.8" dx="2.3" font-size="11.5">-2</tspan></text>
<text class="pl" x="1104.3" y="987.5">(e)</text>
<rect x="1831.4" y="997" width="70.3" height="25.4" fill="#000000"/>
<rect x="1831.4" y="1022.1" width="70.3" height="25.4" fill="#0000ff"/>
<rect x="1831.4" y="1047.3" width="70.3" height="25.5" fill="#0080ff"/>
<rect x="1831.4" y="1072.5" width="70.3" height="25.4" fill="#00ffff"/>
<rect x="1831.4" y="1097.6" width="70.3" height="25.5" fill="#00ff80"/>
<rect x="1831.4" y="1122.8" width="70.3" height="25.5" fill="#00ff00"/>
<rect x="1831.4" y="1147.9" width="70.3" height="25.4" fill="#80ff00"/>
<rect x="1831.4" y="1173" width="70.3" height="25.5" fill="#c8ff00"/>
<rect x="1831.4" y="1198.2" width="70.3" height="25.4" fill="#ffff00"/>
<rect x="1831.4" y="1223.3" width="70.3" height="25.5" fill="#ff8000"/>
<rect x="1831.4" y="1248.5" width="70.3" height="25.5" fill="#ff0000"/>
<text class="lg" x="1907" y="1028.3">0</text>
<text class="lg" x="1907" y="1053.5">10.00</text>
<text class="lg" x="1907" y="1078.7">20.00</text>
<text class="lg" x="1907" y="1103.8">30.00</text>
<text class="lg" x="1907" y="1129">40.00</text>
<text class="lg" x="1907" y="1154.1">50.00</text>
<text class="lg" x="1907" y="1179.2">60.00</text>
<text class="lg" x="1907" y="1204.4">70.00</text>
<text class="lg" x="1907" y="1229.5">80.00</text>
<text class="lg" x="1907" y="1254.7">90.00</text>
<text class="lg" x="1907" y="1279.9">100.0</text>
</g>
<g id="p_f">
<line class="g" x1="1171.1" y1="2201.6" x2="1403.3" y2="1993"/>
<line class="g" x1="1403.3" y1="1993" x2="1742.8" y2="2102.3"/>
<line class="g" x1="1160.1" y1="2134.1" x2="1401.4" y2="1931.4"/>
<line class="g" x1="1401.4" y1="1931.4" x2="1752.2" y2="2037.2"/>
<line class="g" x1="1148.2" y1="2061.3" x2="1399.4" y2="1865.9"/>
<line class="g" x1="1399.4" y1="1865.9" x2="1762.4" y2="1967.5"/>
<line class="g" x1="1135.5" y1="1982.7" x2="1397.2" y2="1796.2"/>
<line class="g" x1="1397.2" y1="1796.2" x2="1773.3" y2="1892.6"/>
<line class="g" x1="1245.5" y1="2203.2" x2="1202" y2="1845.7"/>
<line class="g" x1="1245.5" y1="2203.2" x2="1608.7" y2="2353.7"/>
<line class="g" x1="1303.7" y1="2147.7" x2="1273.5" y2="1799.8"/>
<line class="g" x1="1303.7" y1="2147.7" x2="1654.8" y2="2283.5"/>
<line class="g" x1="1356.6" y1="2097.2" x2="1337.4" y2="1758.7"/>
<line class="g" x1="1356.6" y1="2097.2" x2="1696.3" y2="2220.3"/>
<line class="g" x1="1455.2" y1="2068.1" x2="1453.6" y2="1735.4"/>
<line class="g" x1="1237.5" y1="2289.5" x2="1455.2" y2="2068.1"/>
<line class="g" x1="1507.2" y1="2085.8" x2="1514.5" y2="1749.5"/>
<line class="g" x1="1296.1" y1="2315.7" x2="1507.2" y2="2085.8"/>
<line class="g" x1="1560.9" y1="2104.2" x2="1578" y2="1764.2"/>
<line class="g" x1="1357.2" y1="2342.9" x2="1560.9" y2="2104.2"/>
<line class="g" x1="1616.5" y1="2123.2" x2="1644.1" y2="1779.5"/>
<line class="g" x1="1421" y1="2371.3" x2="1616.5" y2="2123.2"/>
<line class="g" x1="1674.1" y1="2142.8" x2="1713" y2="1795.5"/>
<line class="g" x1="1487.5" y1="2401.1" x2="1674.1" y2="2142.8"/>
<line class="b" x1="1121.6" y1="1897.4" x2="1395" y2="1721.8"/>
<line class="b" x1="1395" y1="1721.8" x2="1785" y2="1812.1"/>
<line class="b" x1="1405" y1="2051" x2="1395" y2="1721.8"/>
<line class="b" x1="1733.9" y1="2163.2" x2="1785" y2="1812.1"/>
<line class="b" x1="1181.3" y1="2264.4" x2="1405" y2="2051"/>
<line class="b" x1="1405" y1="2051" x2="1733.9" y2="2163.2"/>
<polygon points="1165.5,2171.3 1200,2150 1230,2125 1255,2100 1275,2075 1292,2052 1312.5,2020 1343.8,1977.5 1375,1917.5 1401.3,1863.8 1451.3,1845 1502.5,1822.5 1560,1798.8 1617.5,1773.8 1635,1787.5 1650,1802.5 1676.3,1832.5 1695,1862.5 1703,1891.3 1704.7,1900 1699,1911.4 1683.9,1936 1665,1958.7 1648.2,1976.9 1635.2,1986 1622.1,1992.5 1609.1,1997.7 1596.1,2004.2 1583.1,2010.7 1570.1,2015.9 1557.1,2021.2 1544.1,2027.7 1531.1,2033.5 1518.1,2039.4 1505.1,2044.6 1492,2049.8 1479,2056.3 1466,2062.8 1453,2068 1440,2073.2 1418.9,2080.5 1400,2087.4 1387.5,2092.5 1350,2107.5 1312.5,2123.8 1275,2138.8 1237.5,2152.5 1200,2163.8" fill="#00ffff"/>
<polygon points="1165.5,2171.3 1200,2163.8 1237.5,2152.5 1275,2138.8 1312.5,2123.8 1350,2107.5 1387.5,2092.5 1400,2087.4 1418.9,2080.5 1440,2073.2 1453,2068 1466,2062.8 1479,2056.3 1492,2049.8 1505.1,2044.6 1518.1,2039.4 1531.1,2033.5 1544.1,2027.7 1557.1,2021.2 1570.1,2015.9 1583.1,2010.7 1596.1,2004.2 1609.1,1997.7 1622.1,1992.5 1635.2,1986 1648.2,1976.9 1665,1958.7 1683.9,1936 1699,1911.4 1704.7,1900 1703,1891.3 1695,1862.5 1676.3,1832.5 1650,1802.5 1635,1787.5 1617.5,1773.8 1560,1798.8 1502.5,1822.5 1451.3,1845 1401.3,1863.8 1375,1917.5 1343.8,1977.5 1312.5,2020 1292,2052 1290,2062.5 1280,2082.5 1262.5,2105 1240,2127.5 1212.5,2147.5 1175,2167.5" fill="#00ff80"/>
<polygon points="1232,2154.2 1237.5,2152.5 1275,2138.8 1312.5,2123.8 1350,2107.5 1387.5,2092.5 1400,2087.4 1418.9,2080.5 1440,2073.2 1453,2068 1466,2062.8 1479,2056.3 1492,2049.8 1505.1,2044.6 1518.1,2039.4 1531.1,2033.5 1544.1,2027.7 1557.1,2021.2 1570.1,2015.9 1583.1,2010.7 1596.1,2004.2 1609.1,1997.7 1622.1,1992.5 1635.2,1986 1648.2,1976.9 1665,1958.7 1683.9,1936 1699,1911.4 1704.7,1900 1703,1891.3 1695,1862.5 1676.3,1832.5 1650,1802.5 1635,1787.5 1617.5,1773.8 1560,1798.8 1502.5,1822.5 1451.3,1845 1401.3,1863.8 1375,1917.5 1343.8,1977.5 1347.5,2000 1349,2012.5 1345,2040 1330,2070 1307.5,2097.5 1275,2125 1232.5,2153.8" fill="#00ff00"/>
<polygon points="1296.8,2130.1 1312.5,2123.8 1350,2107.5 1387.5,2092.5 1400,2087.4 1418.9,2080.5 1440,2073.2 1453,2068 1466,2062.8 1479,2056.3 1492,2049.8 1505.1,2044.6 1518.1,2039.4 1531.1,2033.5 1544.1,2027.7 1557.1,2021.2 1570.1,2015.9 1583.1,2010.7 1596.1,2004.2 1609.1,1997.7 1622.1,1992.5 1635.2,1986 1648.2,1976.9 1665,1958.7 1683.9,1936 1699,1911.4 1704.7,1900 1703,1891.3 1695,1862.5 1676.3,1832.5 1650,1802.5 1635,1787.5 1617.5,1773.8 1560,1798.8 1502.5,1822.5 1451.3,1845 1401.3,1863.8 1375,1917.5 1387.5,1940 1397.5,1970 1401.3,2000 1398.8,2020 1387.5,2047.5 1367.5,2075 1337.5,2102.5" fill="#80ff00"/>
<polygon points="1362.5,2102.5 1387.5,2092.5 1400,2087.4 1418.9,2080.5 1440,2073.2 1453,2068 1466,2062.8 1479,2056.3 1492,2049.8 1505.1,2044.6 1518.1,2039.4 1531.1,2033.5 1544.1,2027.7 1557.1,2021.2 1570.1,2015.9 1583.1,2010.7 1596.1,2004.2 1609.1,1997.7 1622.1,1992.5 1635.2,1986 1648.2,1976.9 1665,1958.7 1683.9,1936 1699,1911.4 1704.7,1900 1703,1891.3 1695,1862.5 1676.3,1832.5 1650,1802.5 1635,1787.5 1617.5,1773.8 1560,1798.8 1502.5,1822.5 1451.3,1845 1401.3,1863.8 1425,1897 1443.5,1922.7 1453,1945.4 1456.8,1968.1 1455.8,1990.8 1451.1,2009.8 1441.6,2028.7 1428.4,2047.6 1413.2,2064.7 1400,2077.9 1385,2089" fill="#ffff00"/>
<polygon points="1420.4,2080 1440,2073.2 1453,2068 1466,2062.8 1479,2056.3 1492,2049.8 1505.1,2044.6 1518.1,2039.4 1531.1,2033.5 1544.1,2027.7 1557.1,2021.2 1570.1,2015.9 1583.1,2010.7 1596.1,2004.2 1609.1,1997.7 1622.1,1992.5 1635.2,1986 1648.2,1976.9 1665,1958.7 1683.9,1936 1699,1911.4 1704.7,1900 1703,1891.3 1695,1862.5 1676.3,1832.5 1650,1802.5 1635,1787.5 1617.5,1773.8 1560,1798.8 1502.5,1822.5 1451.3,1845 1472.5,1870 1485,1882.5 1496.5,1900 1506,1918.9 1511.7,1937.9 1513.6,1956.8 1512.6,1975.7 1507.9,1994.6 1498.4,2013.6 1485.2,2030.6 1470,2045.7 1453,2059 1437.9,2068.4 1422,2078" fill="#ffc000"/>
<polygon points="1451.3,2068.7 1453,2068 1466,2062.8 1479,2056.3 1492,2049.8 1505.1,2044.6 1518.1,2039.4 1531.1,2033.5 1544.1,2027.7 1557.1,2021.2 1570.1,2015.9 1583.1,2010.7 1596.1,2004.2 1609.1,1997.7 1622.1,1992.5 1635.2,1986 1648.2,1976.9 1665,1958.7 1683.9,1936 1699,1911.4 1704.7,1900 1703,1891.3 1695,1862.5 1676.3,1832.5 1650,1802.5 1635,1787.5 1617.5,1773.8 1560,1798.8 1502.5,1822.5 1530,1850 1555,1882.5 1564.6,1900 1570.3,1918.9 1574.1,1937.9 1574,1956.8 1571.4,1970.4 1564.9,1986 1557.1,1998 1546.7,2010 1536.3,2019 1522,2027.5 1509,2034.5 1496,2041.5 1481,2050 1466,2058.5 1453,2065.5" fill="#ff8000"/>
<polygon points="1481.9,2054.9 1492,2049.8 1505.1,2044.6 1518.1,2039.4 1531.1,2033.5 1544.1,2027.7 1557.1,2021.2 1570.1,2015.9 1583.1,2010.7 1596.1,2004.2 1609.1,1997.7 1622.1,1992.5 1635.2,1986 1648.2,1976.9 1665,1958.7 1683.9,1936 1699,1911.4 1704.7,1900 1703,1891.3 1695,1862.5 1676.3,1832.5 1650,1802.5 1635,1787.5 1617.5,1773.8 1560,1798.8 1590,1827.5 1615,1857.5 1632.5,1887.5 1634.7,1900 1637.5,1918.9 1636.6,1937.9 1631.8,1956.8 1624.8,1969.5 1614.3,1980.5 1602.6,1989.5 1589.3,1997 1570.3,2005.5 1551.4,2014.5 1532.5,2024 1513.6,2034 1494.6,2044.5 1482.9,2053.5" fill="#ff0000"/>
<clipPath id="clip_f"><polygon points="1165.5,2171.3 1200,2150 1230,2125 1255,2100 1275,2075 1292,2052 1312.5,2020 1343.8,1977.5 1375,1917.5 1401.3,1863.8 1451.3,1845 1502.5,1822.5 1560,1798.8 1617.5,1773.8 1635,1787.5 1650,1802.5 1676.3,1832.5 1695,1862.5 1703,1891.3 1704.7,1900 1699,1911.4 1683.9,1936 1665,1958.7 1648.2,1976.9 1635.2,1986 1622.1,1992.5 1609.1,1997.7 1596.1,2004.2 1583.1,2010.7 1570.1,2015.9 1557.1,2021.2 1544.1,2027.7 1531.1,2033.5 1518.1,2039.4 1505.1,2044.6 1492,2049.8 1479,2056.3 1466,2062.8 1453,2068 1440,2073.2 1418.9,2080.5 1400,2087.4 1387.5,2092.5 1350,2107.5 1312.5,2123.8 1275,2138.8 1237.5,2152.5 1200,2163.8"/></clipPath>
<g clip-path="url(#clip_f)">
<polyline class="m" points="1166,2170.6 1195.2,2152.9 1222.4,2131.4 1247.9,2107.1 1272.1,2079.2 1295.3,2051.4 1317.1,2014 1338.9,1986 1359.5,1947.9 1379.7,1909.8 1399.4,1866.7"/>
<polyline class="m" points="1192.7,2165.4 1221.6,2146.5 1248.8,2125.1 1274.4,2101.3 1298.8,2076 1321.8,2045.8 1344,2014.1 1365.5,1981.1 1386.2,1942.5 1406.5,1901.6 1426.3,1855"/>
<polyline class="m" points="1220.2,2158.1 1249.1,2139.3 1276.1,2117.3 1301.7,2093.7 1326,2067.6 1349.2,2039 1371.4,2007.2 1392.9,1971.4 1413.7,1933.4 1434.1,1891.2 1454.1,1844.8"/>
<polyline class="m" points="1248.6,2148.5 1277.6,2131.3 1304.6,2109.4 1330.1,2085.5 1354.4,2059.2 1377.5,2030.3 1399.8,1997.9 1421.3,1962.5 1442.3,1925.2 1462.8,1880.5 1483,1831.4"/>
<polyline class="m" points="1278.4,2137.6 1307.4,2122.5 1334.3,2101 1359.7,2077.1 1383.9,2050.6 1407,2021.1 1429.3,1988.8 1450.8,1953.8 1471.9,1915 1492.5,1869.6 1513,1818.9"/>
<polyline class="m" points="1309.5,2125 1338.4,2111.4 1365.3,2091.4 1390.5,2067.2 1414.6,2040.5 1437.7,2011.2 1459.9,1978.7 1481.5,1943.3 1502.6,1902.8 1523.4,1856.5 1544.2,1805.9"/>
<polyline class="m" points="1342.2,2111 1371,2099.3 1397.6,2080.6 1422.7,2056.2 1446.7,2029.6 1469.7,2000.5 1491.8,1967.8 1513.4,1931.4 1534.6,1889.6 1555.6,1843 1576.6,1792.2"/>
<polyline class="m" points="1376.8,2096.9 1405.1,2086.8 1431.5,2068.1 1456.4,2045.1 1480.2,2018.8 1503,1989.3 1525.1,1955.8 1546.7,1918.6 1568,1876.7 1589.1,1829.6 1610.4,1776.9"/>
<polyline class="m" points="1413.2,2082.7 1441.1,2071.3 1467.1,2054 1491.7,2033.4 1515.2,2007.7 1537.8,1977.7 1559.9,1943.3 1581.4,1905.4 1602.8,1863 1624.2,1813.7 1645.5,1762.3"/>
<polyline class="m" points="1451.7,2068.6 1479,2052.1 1504.6,2037 1528.7,2020.6 1551.9,1995.4 1574.3,1965.1 1596.2,1930.3 1617.7,1892.3 1639.2,1846.9 1660.8,1797 1682,1747.7"/>
<polyline class="m" points="1492.5,2050.4 1519.3,2031.4 1544.3,2017.5 1567.7,2004 1590.4,1981.3 1612.5,1950.7 1634.3,1915.4 1655.7,1875.9 1677.4,1829.7 1698.9,1780.6 1720.1,1732.5"/>
<polyline class="m" points="1535.7,2031.6 1561.7,2016.1 1586,2002 1608.8,1988.1 1630.9,1966.1 1652.7,1935.2 1674.3,1899.2 1695.7,1858.4 1717.3,1812.1 1738.7,1764.2 1759.8,1716.8"/>
<polyline class="m" points="1581.4,2017.2 1606.5,2002.3 1629.8,1988.7 1651.9,1972.8 1673.6,1948.6 1695,1917.7 1716.4,1881.2 1737.8,1839.4 1759.2,1793.9 1780.4,1746.9 1801.3,1700.1"/>
<polyline class="m" points="1166,2170.6 1192.7,2165.4 1220.2,2158.1 1248.6,2148.5 1278.4,2137.6 1309.5,2125 1342.2,2111 1376.8,2096.9 1413.2,2082.7 1451.7,2068.6 1492.5,2050.4 1535.7,2031.6 1581.4,2017.2"/>
<polyline class="m" points="1195.2,2152.9 1221.6,2146.5 1249.1,2139.3 1277.6,2131.3 1307.4,2122.5 1338.4,2111.4 1371,2099.3 1405.1,2086.8 1441.1,2071.3 1479,2052.1 1519.3,2031.4 1561.7,2016.1 1606.5,2002.3"/>
<polyline class="m" points="1222.4,2131.4 1248.8,2125.1 1276.1,2117.3 1304.6,2109.4 1334.3,2101 1365.3,2091.4 1397.6,2080.6 1431.5,2068.1 1467.1,2054 1504.6,2037 1544.3,2017.5 1586,2002 1629.8,1988.7"/>
<polyline class="m" points="1247.9,2107.1 1274.4,2101.3 1301.7,2093.7 1330.1,2085.5 1359.7,2077.1 1390.5,2067.2 1422.7,2056.2 1456.4,2045.1 1491.7,2033.4 1528.7,2020.6 1567.7,2004 1608.8,1988.1 1651.9,1972.8"/>
<polyline class="m" points="1272.1,2079.2 1298.8,2076 1326,2067.6 1354.4,2059.2 1383.9,2050.6 1414.6,2040.5 1446.7,2029.6 1480.2,2018.8 1515.2,2007.7 1551.9,1995.4 1590.4,1981.3 1630.9,1966.1 1673.6,1948.6"/>
<polyline class="m" points="1295.3,2051.4 1321.8,2045.8 1349.2,2039 1377.5,2030.3 1407,2021.1 1437.7,2011.2 1469.7,2000.5 1503,1989.3 1537.8,1977.7 1574.3,1965.1 1612.5,1950.7 1652.7,1935.2 1695,1917.7"/>
<polyline class="m" points="1317.1,2014 1344,2014.1 1371.4,2007.2 1399.8,1997.9 1429.3,1988.8 1459.9,1978.7 1491.8,1967.8 1525.1,1955.8 1559.9,1943.3 1596.2,1930.3 1634.3,1915.4 1674.3,1899.2 1716.4,1881.2"/>
<polyline class="m" points="1338.9,1986 1365.5,1981.1 1392.9,1971.4 1421.3,1962.5 1450.8,1953.8 1481.5,1943.3 1513.4,1931.4 1546.7,1918.6 1581.4,1905.4 1617.7,1892.3 1655.7,1875.9 1695.7,1858.4 1737.8,1839.4"/>
<polyline class="m" points="1359.5,1947.9 1386.2,1942.5 1413.7,1933.4 1442.3,1925.2 1471.9,1915 1502.6,1902.8 1534.6,1889.6 1568,1876.7 1602.8,1863 1639.2,1846.9 1677.4,1829.7 1717.3,1812.1 1759.2,1793.9"/>
<polyline class="m" points="1379.7,1909.8 1406.5,1901.6 1434.1,1891.2 1462.8,1880.5 1492.5,1869.6 1523.4,1856.5 1555.6,1843 1589.1,1829.6 1624.2,1813.7 1660.8,1797 1698.9,1780.6 1738.7,1764.2 1780.4,1746.9"/>
<polyline class="m" points="1399.4,1866.7 1426.3,1855 1454.1,1844.8 1483,1831.4 1513,1818.9 1544.2,1805.9 1576.6,1792.2 1610.4,1776.9 1645.5,1762.3 1682,1747.7 1720.1,1732.5 1759.8,1716.8 1801.3,1700.1"/>
<polyline class="c" points="1162.7,2172.4 1165.5,2171.3 1175,2167.5 1212.5,2147.5 1240,2127.5 1262.5,2105 1280,2082.5 1290,2062.5 1292,2052 1292.6,2049.1"/>
<polyline class="c" points="1230,2155.5 1232.5,2153.8 1275,2125 1307.5,2097.5 1330,2070 1345,2040 1349,2012.5 1347.5,2000 1343.8,1977.5 1343.3,1974.5"/>
<polyline class="c" points="1292.5,2133 1295,2131.3 1337.5,2102.5 1367.5,2075 1387.5,2047.5 1398.8,2020 1401.3,2000 1397.5,1970 1387.5,1940 1375,1917.5 1373.5,1914.9"/>
<polyline class="c" points="1359.9,2104 1362.5,2102.5 1385,2089 1400,2077.9 1413.2,2064.7 1428.4,2047.6 1441.6,2028.7 1451.1,2009.8 1455.8,1990.8 1456.8,1968.1 1453,1945.4 1443.5,1922.7 1425,1897 1401.3,1863.8 1399.6,1861.4"/>
<polyline class="c" points="1416.1,2085.3 1418,2083 1422,2078 1437.9,2068.4 1453,2059 1470,2045.7 1485.2,2030.6 1498.4,2013.6 1507.9,1994.6 1512.6,1975.7 1513.6,1956.8 1511.7,1937.9 1506,1918.9 1496.5,1900 1485,1882.5 1472.5,1870 1451.3,1845 1449.4,1842.7"/>
<polyline class="c" points="1448.6,2073.6 1450,2071 1453,2065.5 1466,2058.5 1481,2050 1496,2041.5 1509,2034.5 1522,2027.5 1536.3,2019 1546.7,2010 1557.1,1998 1564.9,1986 1571.4,1970.4 1574,1956.8 1574.1,1937.9 1570.3,1918.9 1564.6,1900 1555,1882.5 1530,1850 1502.5,1822.5 1500.4,1820.4"/>
<polyline class="c" points="1476.2,2062.4 1478,2060 1482.9,2053.5 1494.6,2044.5 1513.6,2034 1532.5,2024 1551.4,2014.5 1570.3,2005.5 1589.3,1997 1602.6,1989.5 1614.3,1980.5 1624.8,1969.5 1631.8,1956.8 1636.6,1937.9 1637.5,1918.9 1634.7,1900 1632.5,1887.5 1615,1857.5 1590,1827.5 1560,1798.8 1557.8,1796.7"/>
</g>
<polygon class="o" points="1165.5,2171.3 1200,2150 1230,2125 1255,2100 1275,2075 1292,2052 1312.5,2020 1343.8,1977.5 1375,1917.5 1401.3,1863.8 1451.3,1845 1502.5,1822.5 1560,1798.8 1617.5,1773.8 1635,1787.5 1650,1802.5 1676.3,1832.5 1695,1862.5 1703,1891.3 1704.7,1900 1699,1911.4 1683.9,1936 1665,1958.7 1648.2,1976.9 1635.2,1986 1622.1,1992.5 1609.1,1997.7 1596.1,2004.2 1583.1,2010.7 1570.1,2015.9 1557.1,2021.2 1544.1,2027.7 1531.1,2033.5 1518.1,2039.4 1505.1,2044.6 1492,2049.8 1479,2056.3 1466,2062.8 1453,2068 1440,2073.2 1418.9,2080.5 1400,2087.4 1387.5,2092.5 1350,2107.5 1312.5,2123.8 1275,2138.8 1237.5,2152.5 1200,2163.8"/>
<line class="t" x1="1181.3" y1="2264.4" x2="1164.9" y2="2280.1"/>
<line class="t" x1="1176.3" y1="2233.5" x2="1167.9" y2="2241.3"/>
<line class="t" x1="1171.1" y1="2201.6" x2="1153.9" y2="2217"/>
<line class="t" x1="1165.7" y1="2168.4" x2="1157" y2="2176"/>
<line class="t" x1="1160.1" y1="2134.1" x2="1142.1" y2="2149.1"/>
<line class="t" x1="1154.3" y1="2098.4" x2="1145.2" y2="2105.8"/>
<line class="t" x1="1148.2" y1="2061.3" x2="1129.4" y2="2075.9"/>
<line class="t" x1="1142" y1="2022.8" x2="1132.4" y2="2029.9"/>
<line class="t" x1="1135.5" y1="1982.7" x2="1115.7" y2="1996.7"/>
<line class="t" x1="1128.7" y1="1940.9" x2="1118.6" y2="1947.7"/>
<line class="t" x1="1121.6" y1="1897.4" x2="1100.8" y2="1910.8"/>
<line class="t" x1="1181.3" y1="2264.4" x2="1164.9" y2="2280.1"/>
<line class="t" x1="1209.1" y1="2276.8" x2="1201.1" y2="2284.8"/>
<line class="t" x1="1237.5" y1="2289.5" x2="1221.5" y2="2305.8"/>
<line class="t" x1="1266.5" y1="2302.4" x2="1258.7" y2="2310.7"/>
<line class="t" x1="1296.1" y1="2315.7" x2="1280.5" y2="2332.6"/>
<line class="t" x1="1326.4" y1="2329.1" x2="1318.7" y2="2337.8"/>
<line class="t" x1="1357.2" y1="2342.9" x2="1342.1" y2="2360.6"/>
<line class="t" x1="1388.8" y1="2357" x2="1381.4" y2="2366"/>
<line class="t" x1="1421" y1="2371.3" x2="1406.4" y2="2389.8"/>
<line class="t" x1="1453.9" y1="2386" x2="1446.8" y2="2395.4"/>
<line class="t" x1="1487.5" y1="2401.1" x2="1473.6" y2="2420.4"/>
<line class="t" x1="1522" y1="2416.4" x2="1515.2" y2="2426.2"/>
<line class="t" x1="1557.1" y1="2432.1" x2="1543.8" y2="2452.3"/>
<line class="t" x1="1557.1" y1="2432.1" x2="1583" y2="2443.6"/>
<line class="t" x1="1583.7" y1="2391.8" x2="1596.3" y2="2397.2"/>
<line class="t" x1="1608.7" y1="2353.7" x2="1633.5" y2="2363.9"/>
<line class="t" x1="1632.4" y1="2317.6" x2="1644.5" y2="2322.5"/>
<line class="t" x1="1654.8" y1="2283.5" x2="1678.6" y2="2292.7"/>
<line class="t" x1="1676.1" y1="2251.1" x2="1687.7" y2="2255.4"/>
<line class="t" x1="1696.3" y1="2220.3" x2="1719.2" y2="2228.6"/>
<line class="t" x1="1715.6" y1="2191.1" x2="1726.8" y2="2195"/>
<line class="t" x1="1733.9" y1="2163.2" x2="1755.9" y2="2170.7"/>
<polyline class="a" points="1121.6,1897.4 1181.3,2264.4 1557.1,2432.1 1733.9,2163.2"/>
<text class="tl" x="1076.2" y="1925.5">100</text>
<text class="tl" x="1097.3" y="2011.3">80</text>
<text class="tl" x="1110.6" y="2089.9">60</text>
<text class="tl" x="1123.9" y="2162.8">40</text>
<text class="tl" x="1136.7" y="2230.9">20</text>
<text class="tl" x="1153.2" y="2294.4">0</text>
<text class="tl" x="1152.3" y="2313.9">0.0</text>
<text class="tl" x="1210.5" y="2340.5">0.2</text>
<text class="tl" x="1270.6" y="2369.3">0.4</text>
<text class="tl" x="1334.3" y="2398.5">0.6</text>
<text class="tl" x="1399.8" y="2429.3">0.8</text>
<text class="tl" x="1468.9" y="2462.1">1.0</text>
<text class="tl" x="1541.1" y="2495.8">1.2</text>
<text class="tl" x="1603.7" y="2471.9">10</text>
<text class="tl" x="1654.6" y="2390.8">15</text>
<text class="tl" x="1698" y="2315.7">20</text>
<text class="tl" x="1739.8" y="2250.9">25</text>
<text class="tl" x="1777" y="2191.5">30</text>
<text class="tt" transform="translate(1308.2,2436.4) rotate(26.8)" y="8">Carbon, wt%</text>
<text class="tt" transform="translate(1744.9,2340.8) rotate(-62)" y="8">Manganese, wt%</text>
<text class="ts" font-size="29.6" transform="translate(1021.7,2154.9) rotate(-100.1)" x="-65.8" y="8.6">SFE, mJ<tspan dx="-2.1">·</tspan><tspan dx="-2.2">m</tspan><tspan dy="-17.2" dx="2.7" font-size="13.3">-2</tspan></text>
<text class="ts" font-size="14" text-anchor="middle" transform="translate(1012.7,1990.8) rotate(-100)" y="4.2">-2</text>
<text class="pl" x="1116" y="1842">(f)</text>
<rect x="1823.3" y="1863" width="70.9" height="25.5" fill="#000000"/>
<rect x="1823.3" y="1888.2" width="70.9" height="25.5" fill="#0000ff"/>
<rect x="1823.3" y="1913.4" width="70.9" height="25.5" fill="#0080ff"/>
<rect x="1823.3" y="1938.6" width="70.9" height="25.5" fill="#00ffff"/>
<rect x="1823.3" y="1963.8" width="70.9" height="25.5" fill="#00ff80"/>
<rect x="1823.3" y="1989" width="70.9" height="25.5" fill="#00ff00"/>
<rect x="1823.3" y="2014.2" width="70.9" height="25.5" fill="#80ff00"/>
<rect x="1823.3" y="2039.4" width="70.9" height="25.5" fill="#ffff00"/>
<rect x="1823.3" y="2064.6" width="70.9" height="25.5" fill="#ffc000"/>
<rect x="1823.3" y="2089.8" width="70.9" height="25.5" fill="#ff8000"/>
<rect x="1823.3" y="2115" width="70.9" height="25.5" fill="#ff0000"/>
<text class="lg" x="1899.5" y="1894.4">0</text>
<text class="lg" x="1899.5" y="1919.6">10.00</text>
<text class="lg" x="1899.5" y="1944.8">20.00</text>
<text class="lg" x="1899.5" y="1970">30.00</text>
<text class="lg" x="1899.5" y="1995.2">40.00</text>
<text class="lg" x="1899.5" y="2020.4">50.00</text>
<text class="lg" x="1899.5" y="2045.6">60.00</text>
<text class="lg" x="1899.5" y="2070.8">70.00</text>
<text class="lg" x="1899.5" y="2096">80.00</text>
<text class="lg" x="1899.5" y="2121.2">90.00</text>
<text class="lg" x="1899.5" y="2146.4">100.0</text>
</g>
</svg>
</body></html>
